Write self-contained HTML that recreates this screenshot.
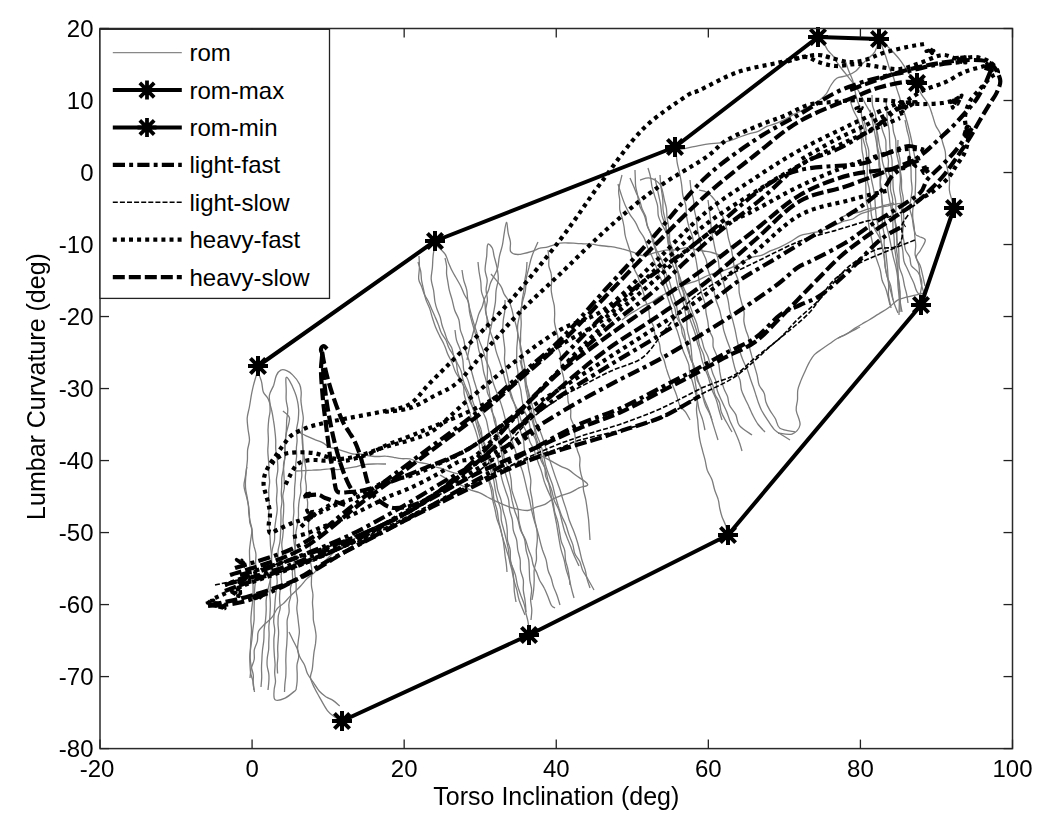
<!DOCTYPE html>
<html><head><meta charset="utf-8"><style>
html,body{margin:0;padding:0;background:#fff;width:1050px;height:825px;overflow:hidden}
svg{display:block;filter:blur(0.35px)}
</style></head><body><svg width="1050" height="825" viewBox="0 0 1050 825"><path d="M256.5 374.6 C256.0 376.4 254.4 381.6 253.5 385.2 C252.6 388.7 251.9 392.3 251.2 395.9 C250.6 399.5 250.1 403.4 249.4 407.0 C248.7 410.7 247.5 414.3 247.2 418.0 C247.0 421.6 247.7 425.3 248.0 429.0 C248.4 432.7 249.5 436.5 249.5 440.0 C249.4 443.5 248.0 446.6 247.6 449.9 C247.3 453.3 247.6 456.6 247.4 460.0 C247.1 463.5 246.7 467.0 246.3 470.5 C246.0 474.0 245.6 477.9 245.5 481.0 C245.3 484.1 245.4 486.5 245.7 489.3 C246.0 492.0 246.7 494.7 247.2 497.4 C247.6 500.1 248.1 502.8 248.4 505.5 C248.7 508.3 248.5 511.1 248.8 513.8 C249.1 516.5 249.7 519.2 250.3 521.9 C250.8 524.6 251.8 527.2 252.1 529.9 C252.5 532.6 252.3 535.4 252.6 538.1 C252.9 540.9 253.5 543.5 254.0 546.2 C254.6 548.8 255.7 551.2 255.9 554.0 C256.2 556.7 255.5 559.8 255.6 562.7 C255.7 565.5 256.5 568.5 256.5 571.3 C256.5 574.2 255.9 576.9 255.6 580.0 C255.3 583.1 254.8 586.6 254.6 590.0 C254.4 593.3 254.4 596.6 254.3 600.0 C254.2 603.3 254.1 606.7 254.1 610.0 C254.0 613.3 254.3 616.7 254.1 620.0 C253.8 623.4 253.2 626.7 252.8 630.0 C252.4 633.3 252.2 636.9 251.8 640.0 C251.4 643.0 250.9 645.5 250.6 648.3 C250.3 651.0 249.9 653.8 249.8 656.6 C249.7 659.4 249.9 662.2 250.0 665.0 C250.2 667.8 250.2 670.7 250.7 673.4 C251.2 676.2 252.5 678.8 253.1 681.6 C253.6 684.4 253.8 688.6 254.0 690.0" stroke="#7c7c7c" stroke-width="1.3" fill="none" stroke-linejoin="round"/><path d="M258.0 372.0 C258.6 373.6 260.7 378.3 261.5 381.6 C262.4 384.9 262.2 389.1 263.3 392.0 C264.4 394.8 266.9 396.0 268.2 398.9 C269.6 401.9 270.7 406.0 271.5 409.7 C272.4 413.3 273.0 417.3 273.5 420.7 C274.1 424.1 274.5 427.1 274.8 430.3 C275.2 433.6 275.6 436.7 275.7 440.0 C275.9 443.3 275.5 446.7 275.8 450.0 C276.1 453.3 277.1 456.6 277.4 460.0 C277.7 463.3 278.0 466.7 277.8 470.0 C277.7 473.3 276.5 476.7 276.4 480.0 C276.3 483.3 277.1 486.7 277.1 490.0 C277.1 493.3 276.5 496.6 276.5 500.0 C276.5 503.3 277.4 506.7 277.2 510.1 C277.1 513.4 276.2 516.7 275.8 520.0 C275.3 523.3 274.8 526.6 274.6 530.0 C274.4 533.3 274.9 536.7 274.5 540.0 C274.1 543.4 272.7 546.6 272.2 549.9 C271.7 553.2 271.4 556.5 271.3 559.9 C271.2 563.3 271.7 566.7 271.5 570.1 C271.3 573.5 270.8 576.8 270.2 580.1 C269.6 583.4 268.6 586.7 267.9 590.0 C267.3 593.3 266.5 596.6 266.2 599.9 C265.9 603.3 266.3 606.7 266.2 610.0 C266.1 613.4 265.9 616.7 265.5 620.1 C265.2 623.4 264.4 626.7 264.1 630.0 C263.9 633.4 264.1 636.8 263.8 640.1 C263.6 643.4 262.8 646.8 262.5 650.0 C262.2 653.2 262.0 656.2 261.9 659.3 C261.7 662.3 261.5 665.4 261.5 668.5 C261.5 671.6 261.8 674.7 261.7 677.8 C261.6 680.8 261.1 685.5 261.0 687.0" stroke="#7c7c7c" stroke-width="1.3" fill="none" stroke-linejoin="round"/><path d="M268.0 690.0 C268.1 688.7 268.7 684.7 268.8 682.0 C269.0 679.3 269.1 676.7 268.8 674.0 C268.5 671.3 267.5 668.7 267.2 666.0 C266.9 663.3 267.0 660.7 267.3 658.0 C267.5 655.3 268.3 652.7 268.6 650.0 C268.9 647.4 268.7 644.7 268.8 642.0 C268.9 639.4 269.1 636.7 269.1 634.0 C269.1 631.3 268.7 628.7 268.9 626.0 C269.0 623.3 269.6 620.7 269.8 618.0 C270.0 615.3 270.1 612.7 270.2 610.0 C270.3 607.3 270.4 604.7 270.3 602.0 C270.3 599.3 269.8 596.7 269.8 594.0 C269.8 591.3 270.3 588.7 270.5 586.0 C270.6 583.3 270.5 580.7 270.6 578.0 C270.8 575.3 271.2 572.7 271.4 570.0 C271.6 567.3 271.7 564.6 271.7 562.0 C271.7 559.3 271.6 556.6 271.4 554.0 C271.2 551.3 270.7 548.7 270.5 546.0 C270.3 543.3 270.3 540.7 270.1 538.0 C270.0 535.3 269.8 532.7 269.6 530.0 C269.4 527.3 269.1 524.7 269.0 522.0 C268.8 519.4 268.7 516.7 268.7 514.0 C268.8 511.4 269.3 508.7 269.3 506.0 C269.4 503.3 269.0 500.7 268.9 498.0 C268.8 495.3 268.7 492.7 268.8 490.0 C268.9 487.3 269.6 484.7 269.6 482.0 C269.7 479.3 269.0 476.7 268.9 474.0 C268.8 471.3 269.0 468.7 268.9 466.0 C268.8 463.3 268.5 460.7 268.3 458.0 C268.1 455.3 267.8 453.0 267.8 450.0 C267.9 447.0 268.4 443.3 268.4 440.0 C268.4 436.7 268.0 433.3 268.0 430.0 C268.1 426.7 268.4 423.0 268.7 420.0 C269.0 417.0 269.8 414.5 270.0 411.7 C270.2 408.9 270.0 406.2 269.9 403.3 C269.8 400.5 268.8 397.9 269.5 394.8 C270.1 391.8 272.5 388.4 273.7 385.2 C274.8 382.0 275.2 377.9 276.4 375.4 C277.6 372.8 279.1 370.9 280.8 370.1 C282.5 369.3 284.6 369.8 286.6 370.6 C288.5 371.4 290.5 372.6 292.6 374.9 C294.8 377.1 298.1 381.2 299.5 384.1 C300.9 386.9 300.9 389.4 301.2 392.1 C301.4 394.9 300.8 397.7 300.9 400.4 C301.1 403.2 301.5 405.5 301.9 408.5 C302.3 411.5 303.2 415.0 303.3 418.2 C303.4 421.5 302.4 425.0 302.2 428.0 C302.1 431.0 302.3 433.3 302.4 436.0 C302.5 438.7 302.8 441.3 302.9 444.0 C303.0 446.7 302.9 449.3 302.9 452.0 C302.9 454.7 303.2 457.3 303.0 460.0 C302.8 462.7 301.8 465.3 301.6 467.9 C301.4 470.6 302.0 473.3 301.8 476.0 C301.6 478.7 300.8 481.3 300.6 484.0 C300.4 486.6 301.1 489.4 300.9 492.0 C300.6 494.7 299.7 497.3 299.3 499.9 C298.9 502.6 298.6 505.2 298.5 507.9 C298.3 510.6 298.6 513.3 298.5 516.0 C298.3 518.7 297.9 521.3 297.5 524.0 C297.1 526.6 296.4 529.3 296.0 531.9 C295.7 534.6 295.7 537.3 295.6 540.0 C295.5 542.6 295.3 545.3 295.2 548.0 C295.1 550.7 295.1 553.4 294.9 556.0 C294.7 558.7 294.3 561.4 293.9 564.0 C293.5 566.7 292.7 569.3 292.4 572.0 C292.2 574.6 292.9 577.4 292.6 580.1 C292.3 582.7 290.8 585.3 290.5 587.9 C290.2 590.6 291.1 593.4 290.8 596.0 C290.5 598.7 289.1 601.3 288.9 603.9 C288.6 606.6 289.4 609.4 289.1 612.0 C288.9 614.7 287.5 617.3 287.2 620.0 C286.9 622.6 287.2 625.3 287.2 628.0 C287.2 630.7 287.3 633.3 287.2 636.0 C287.1 638.7 286.9 641.3 286.8 644.0 C286.6 646.7 286.3 649.3 286.1 652.0 C286.0 654.7 285.9 657.3 285.8 660.0 C285.8 662.7 286.0 665.3 286.0 668.0 C286.0 670.7 286.0 673.4 285.8 676.0 C285.6 678.7 285.1 681.3 284.9 684.0 C284.6 686.7 284.6 690.7 284.5 692.0" stroke="#7c7c7c" stroke-width="1.3" fill="none" stroke-linejoin="round"/><path d="M277.6 673.5 C277.5 672.1 277.2 667.9 277.2 665.1 C277.3 662.3 277.8 659.5 277.9 656.8 C278.0 654.0 277.6 651.2 277.7 648.4 C277.7 645.6 278.0 642.7 278.2 640.0 C278.3 637.3 278.7 634.7 278.6 632.0 C278.6 629.3 278.1 626.6 278.0 624.0 C278.0 621.3 278.0 618.6 278.3 616.0 C278.7 613.3 280.0 610.7 280.2 608.0 C280.4 605.4 279.6 602.7 279.6 600.0 C279.5 597.3 279.6 594.6 279.9 592.0 C280.3 589.3 281.5 586.7 281.7 584.0 C281.9 581.4 281.1 578.7 281.1 576.0 C281.2 573.3 282.1 570.7 282.2 568.0 C282.3 565.4 281.9 562.7 282.0 560.0 C282.0 557.3 282.5 554.7 282.5 552.0 C282.4 549.3 281.7 546.7 281.8 544.0 C281.8 541.3 282.6 538.7 282.8 536.0 C283.1 533.3 283.4 530.7 283.5 528.0 C283.5 525.3 283.0 522.7 283.0 520.0 C283.1 517.3 283.5 514.7 283.6 512.0 C283.7 509.3 283.8 506.7 283.7 504.0 C283.6 501.3 282.7 498.6 282.8 496.0 C282.9 493.3 284.0 490.7 284.3 488.0 C284.5 485.3 284.2 482.7 284.2 480.0 C284.1 477.3 283.9 474.7 283.8 472.0 C283.7 469.3 283.3 466.6 283.6 464.0 C283.8 461.3 285.1 458.7 285.3 456.0 C285.5 453.4 284.7 450.7 284.8 448.0 C284.8 445.3 285.1 443.0 285.4 440.0 C285.7 437.0 286.1 433.4 286.3 430.0 C286.6 426.7 286.5 423.4 286.7 420.0 C287.0 416.7 287.8 413.3 287.8 410.0 C287.7 406.6 286.4 403.3 286.2 400.0 C285.9 396.7 286.3 393.7 286.2 390.0 C286.2 386.3 285.5 379.5 286.0 377.9 C286.6 376.3 287.8 378.0 289.3 380.3 C290.7 382.6 293.4 388.3 294.7 391.7 C296.1 395.1 296.8 397.6 297.4 400.7 C298.1 403.8 298.5 406.8 298.7 410.0 C298.8 413.2 298.5 416.7 298.2 420.0 C297.8 423.3 296.7 426.6 296.5 430.0 C296.3 433.3 297.1 437.0 297.1 440.0 C297.1 443.0 296.5 445.3 296.4 448.0 C296.3 450.7 296.7 453.3 296.6 456.0 C296.5 458.7 295.9 461.3 295.8 464.0 C295.6 466.7 295.7 469.3 295.6 472.0 C295.5 474.7 295.4 477.3 295.3 480.0 C295.1 482.7 294.8 485.3 294.6 488.0 C294.5 490.7 294.6 493.3 294.4 496.0 C294.3 498.7 293.8 501.3 293.7 504.0 C293.6 506.6 293.9 509.3 293.9 512.0 C293.8 514.7 293.3 517.3 293.2 520.0 C293.2 522.7 293.5 525.3 293.6 528.0 C293.6 530.7 293.4 533.4 293.5 536.0 C293.6 538.7 294.0 541.3 294.3 544.0 C294.6 546.7 295.4 549.3 295.4 552.0 C295.4 554.7 294.5 557.4 294.4 560.0 C294.2 562.7 294.4 565.4 294.6 568.0 C294.7 570.7 294.8 573.4 295.1 576.0 C295.3 578.7 295.9 581.3 296.1 584.0 C296.3 586.7 296.0 589.4 296.2 592.0 C296.5 594.7 297.4 597.3 297.5 600.0 C297.6 602.6 296.8 605.4 296.8 608.0 C296.8 610.7 297.4 613.3 297.7 616.0 C298.0 618.7 298.3 621.3 298.6 624.0 C298.9 626.6 299.4 629.3 299.4 632.0 C299.3 634.6 298.7 637.2 298.4 640.0 C298.1 642.7 297.6 645.5 297.6 648.3 C297.7 651.1 298.8 653.9 298.7 656.7 C298.6 659.5 297.2 662.2 297.0 665.0 C296.7 667.7 297.1 670.6 297.2 673.3 C297.2 676.1 297.3 678.9 297.1 681.7 C296.9 684.5 296.2 688.6 296.0 690.0" stroke="#7c7c7c" stroke-width="1.3" fill="none" stroke-linejoin="round"/><path d="M283.0 411.0 C284.1 412.2 288.9 414.5 289.5 418.1 C290.0 421.7 287.1 428.9 286.4 432.9 C285.7 436.9 285.5 439.0 285.2 442.1 C285.0 445.2 285.1 448.3 285.0 451.4 C284.8 454.6 284.8 457.7 284.5 460.8 C284.2 463.9 283.6 467.1 283.2 470.0 C282.7 472.9 282.1 475.3 281.8 478.0 C281.6 480.6 281.7 483.3 281.7 486.0 C281.6 488.6 281.3 491.3 281.3 494.0 C281.4 496.7 282.0 499.4 281.9 502.0 C281.8 504.7 281.1 507.3 280.9 510.0 C280.8 512.7 281.0 515.3 281.0 518.0 C281.0 520.7 280.9 523.4 280.8 526.0 C280.7 528.7 280.7 531.4 280.5 534.0 C280.4 536.7 280.3 539.4 279.9 542.0 C279.5 544.7 278.6 547.3 278.2 549.9 C277.9 552.6 278.0 555.3 277.8 558.0 C277.6 560.6 277.4 563.3 277.2 566.0 C277.1 568.6 276.7 571.3 276.7 574.0 C276.6 576.6 277.2 579.4 277.2 582.0 C277.1 584.7 276.6 587.4 276.3 590.0 C276.0 592.7 275.6 595.3 275.4 598.0 C275.1 600.6 275.0 603.3 274.8 606.0 C274.6 608.6 274.3 611.3 274.2 614.0 C274.0 616.6 273.6 619.3 273.7 622.0 C273.8 624.6 274.7 627.2 274.7 630.0 C274.8 632.8 274.1 635.8 273.9 638.6 C273.8 641.5 273.9 644.4 273.9 647.3 C274.0 650.1 274.2 653.0 274.4 655.9 C274.6 658.7 275.0 661.6 275.1 664.5 C275.1 667.4 274.6 670.2 274.7 673.1 C274.7 676.0 275.6 678.9 275.5 681.7 C275.4 684.6 274.2 687.4 274.1 690.4 C274.0 693.4 273.2 698.4 275.1 699.7 C276.9 700.9 281.6 699.7 285.1 698.1 C288.5 696.5 294.2 691.3 296.0 690.0" stroke="#7c7c7c" stroke-width="1.3" fill="none" stroke-linejoin="round"/><path d="M246.8 466.8 C246.6 468.4 245.9 473.2 245.4 476.4 C244.9 479.6 243.8 482.8 244.0 486.1 C244.1 489.4 245.6 492.7 246.3 495.9 C247.1 499.2 248.0 502.7 248.5 505.7 C249.0 508.6 249.2 511.1 249.4 513.8 C249.6 516.5 249.3 519.2 249.7 521.9 C250.1 524.6 251.7 527.0 251.8 530.0 C252.0 533.0 251.1 536.7 250.7 540.0 C250.3 543.3 249.7 546.6 249.5 550.0 C249.4 553.3 249.6 556.7 249.7 560.0 C249.9 563.4 249.8 566.8 250.3 570.1 C250.8 573.4 252.2 576.6 252.7 579.9 C253.2 583.3 253.0 586.7 253.1 590.0 C253.1 593.4 253.0 596.7 252.8 600.0 C252.5 603.4 251.9 606.7 251.6 610.0 C251.3 613.3 250.9 616.7 250.9 620.0 C250.9 623.3 251.5 626.7 251.5 630.0 C251.5 633.4 251.0 636.7 250.8 640.0 C250.7 643.3 250.5 646.9 250.4 650.0 C250.3 653.0 250.0 655.7 250.2 658.5 C250.3 661.3 250.8 664.1 251.3 666.9 C251.9 669.6 253.0 672.3 253.3 675.1 C253.6 677.9 252.9 680.8 253.1 683.7 C253.3 686.5 254.3 690.6 254.5 692.0" stroke="#7c7c7c" stroke-width="1.3" fill="none" stroke-linejoin="round"/><path d="M302.0 430.0 C302.0 431.3 302.0 435.4 302.1 438.0 C302.2 440.7 302.3 443.4 302.6 446.0 C302.9 448.7 303.5 451.3 303.8 454.0 C304.2 456.7 304.5 459.3 304.8 462.0 C305.2 464.6 305.8 467.3 305.9 469.9 C306.0 472.6 305.2 475.3 305.3 478.0 C305.4 480.7 306.1 483.3 306.3 486.0 C306.4 488.7 306.1 491.4 306.3 494.0 C306.6 496.7 307.4 499.3 307.6 502.0 C307.8 504.6 307.3 507.2 307.5 510.0 C307.7 512.8 308.8 515.8 308.9 518.7 C309.1 521.6 308.4 524.6 308.5 527.5 C308.5 530.5 308.8 533.4 309.1 536.3 C309.4 539.2 309.9 542.2 310.2 545.0 C310.4 547.8 310.3 550.5 310.3 553.2 C310.4 555.9 310.2 558.7 310.5 561.4 C310.7 564.1 311.6 566.8 311.8 569.6 C311.9 572.3 311.6 575.1 311.5 577.8 C311.5 580.5 311.2 583.3 311.5 586.0 C311.7 588.8 312.8 591.6 312.9 594.5 C313.1 597.3 312.4 600.2 312.5 603.0 C312.5 605.9 313.0 608.7 313.2 611.5 C313.3 614.4 313.1 617.3 313.4 620.1 C313.7 622.8 314.5 625.3 315.0 628.0 C315.4 630.6 316.0 633.3 316.1 635.9 C316.1 638.6 315.8 641.2 315.5 643.9 C315.1 646.7 314.4 649.6 314.0 652.4 C313.6 655.3 313.4 658.1 313.1 661.0 C312.8 663.9 312.7 666.8 312.2 669.6 C311.8 672.4 310.1 674.8 310.5 677.8 C310.8 680.8 312.8 684.4 314.3 687.6 C315.7 690.8 317.1 693.0 319.3 696.8 C321.5 700.6 324.8 707.2 327.4 710.6 C330.0 714.0 332.5 715.4 334.9 717.1 C337.3 718.9 340.8 720.4 342.0 721.0" stroke="#7c7c7c" stroke-width="1.3" fill="none" stroke-linejoin="round"/><path d="M289.0 632.0 C289.7 633.4 291.7 637.4 293.0 640.2 C294.3 642.9 295.8 645.5 297.0 648.3 C298.1 651.2 298.6 654.3 299.9 657.0 C301.1 659.8 303.2 662.1 304.5 664.9 C305.8 667.6 306.0 670.6 307.4 673.5 C308.9 676.5 311.5 679.7 313.5 682.6 C315.5 685.6 317.4 689.0 319.4 691.3 C321.5 693.7 323.6 695.1 325.9 696.7 C328.2 698.2 331.0 699.1 333.3 700.6 C335.6 702.2 338.6 705.1 339.7 706.0" stroke="#7c7c7c" stroke-width="1.3" fill="none" stroke-linejoin="round"/><path d="M250.0 678.0 C250.2 676.4 250.5 671.7 251.2 668.6 C251.9 665.5 253.6 662.6 254.2 659.5 C254.7 656.4 253.8 652.9 254.3 649.9 C254.9 646.8 256.7 644.1 257.4 641.1 C258.0 638.0 257.2 634.4 258.4 631.5 C259.7 628.7 262.6 626.4 264.8 624.0 C267.1 621.7 270.0 619.8 272.1 617.2 C274.2 614.7 275.3 610.9 277.2 608.6 C279.1 606.3 281.6 605.3 283.5 603.4 C285.5 601.6 287.2 599.4 289.0 597.4 C290.9 595.5 292.9 593.6 294.8 591.7 C296.7 589.8 298.6 588.2 300.6 586.0 C302.6 583.8 304.7 580.9 307.0 578.6 C309.3 576.4 312.4 574.8 314.6 572.4 C316.9 570.1 318.4 566.7 320.5 564.4 C322.6 562.2 324.9 560.9 327.0 559.0 C329.1 557.1 331.0 554.9 333.1 553.0 C335.2 551.1 337.0 549.6 339.8 547.6 C342.6 545.7 346.5 543.5 349.9 541.4 C353.3 539.3 358.3 536.1 360.0 535.0" stroke="#7c7c7c" stroke-width="1.3" fill="none" stroke-linejoin="round"/><path d="M300.0 433.0 C301.2 433.6 304.9 435.2 307.4 436.3 C309.9 437.4 312.4 438.5 314.9 439.6 C317.4 440.6 320.1 441.3 322.5 442.6 C324.9 443.9 326.9 446.1 329.3 447.2 C331.8 448.3 334.6 448.4 337.2 449.1 C339.8 449.9 342.4 450.9 345.0 451.7 C347.6 452.5 350.2 453.6 352.9 454.0 C355.5 454.5 358.3 454.0 361.1 454.2 C363.8 454.5 366.4 455.4 369.2 455.8 C371.9 456.1 374.6 456.5 377.3 456.5 C380.1 456.6 382.8 456.0 385.6 456.2 C388.3 456.3 391.0 457.0 393.7 457.4 C396.4 457.9 399.1 458.5 401.8 458.7 C404.5 458.9 407.3 458.4 410.0 458.9 C412.7 459.5 415.2 461.2 417.9 462.1 C420.6 462.9 423.5 463.0 426.2 463.7 C428.9 464.5 431.5 465.7 434.1 466.5 C436.8 467.4 439.6 467.8 442.2 468.7 C444.8 469.5 447.4 470.8 450.0 471.7 C452.6 472.6 456.7 473.6 458.0 474.0" stroke="#7c7c7c" stroke-width="1.3" fill="none" stroke-linejoin="round"/><path d="M296.0 471.0 C297.4 471.0 301.5 470.9 304.2 470.7 C306.9 470.6 309.7 470.2 312.4 470.1 C315.1 469.9 317.9 470.1 320.6 469.9 C323.3 469.7 326.0 468.9 328.8 468.9 C331.5 468.8 334.2 469.6 337.1 469.6 C340.0 469.5 343.1 468.8 346.1 468.3 C349.1 467.9 352.1 467.4 355.0 466.8 C358.0 466.2 360.9 465.1 363.9 464.6 C366.9 464.2 369.3 464.1 373.0 464.0 C376.7 463.9 383.8 464.0 386.0 464.0" stroke="#7c7c7c" stroke-width="1.3" fill="none" stroke-linejoin="round"/><path d="M435.0 244.0 C434.7 246.0 433.5 252.1 433.1 256.0 C432.7 259.9 432.7 263.6 432.4 267.5 C432.1 271.3 431.0 275.3 431.2 279.1 C431.4 282.9 432.9 286.7 433.6 290.5 C434.2 294.3 434.4 298.8 435.0 302.0 C435.6 305.2 436.3 307.2 437.2 309.7 C438.1 312.2 439.4 314.6 440.2 317.2 C441.0 319.7 441.2 322.4 442.0 325.0 C442.7 327.6 443.9 330.2 444.8 332.8 C445.7 335.3 446.4 338.0 447.5 340.5 C448.7 343.0 450.7 345.3 451.7 347.8 C452.7 350.3 452.9 353.0 453.7 355.6 C454.5 358.1 455.7 360.5 456.4 363.1 C457.0 365.7 456.9 368.6 457.5 371.2 C458.1 373.8 459.0 376.3 460.0 378.8 C461.0 381.3 462.8 383.5 463.5 386.1 C464.1 388.7 463.7 391.4 464.2 394.2 C464.7 397.0 465.7 400.0 466.5 402.9 C467.4 405.7 468.5 408.5 469.4 411.4 C470.3 414.3 470.8 417.0 471.8 420.1 C472.8 423.1 474.2 426.6 475.3 429.8 C476.3 433.1 477.4 436.4 478.2 439.8 C479.0 443.1 479.1 446.7 480.0 450.0 C480.8 453.3 482.4 456.5 483.4 459.8 C484.4 463.1 485.0 466.5 485.9 469.9 C486.7 473.2 487.6 476.6 488.5 479.9 C489.3 483.2 490.4 486.5 491.2 489.8 C491.9 493.2 492.1 496.6 492.7 500.0 C493.4 503.3 494.4 506.8 495.1 510.0 C495.8 513.1 496.1 516.0 496.9 518.9 C497.7 521.8 499.1 524.6 500.0 527.5 C500.9 530.4 501.4 533.4 502.3 536.3 C503.1 539.2 504.0 541.9 505.0 545.0 C506.0 548.1 506.9 551.8 508.1 555.1 C509.2 558.4 510.5 561.7 511.7 565.0 C513.0 568.3 514.4 571.5 515.4 574.9 C516.3 578.3 516.6 581.9 517.5 585.3 C518.4 588.7 519.7 592.0 520.8 595.3 C522.0 598.6 523.5 602.1 524.4 605.1 C525.3 608.1 525.4 610.6 526.0 613.4 C526.6 616.1 527.5 618.8 528.0 621.6 C528.5 624.4 528.8 628.6 529.0 630.0" stroke="#7c7c7c" stroke-width="1.3" fill="none" stroke-linejoin="round"/><path d="M436.0 245.0 C437.5 246.5 443.0 251.1 445.0 254.0 C447.1 256.9 447.2 259.6 448.4 262.4 C449.6 265.2 450.7 268.1 452.1 270.8 C453.4 273.5 455.1 276.1 456.6 278.7 C458.0 281.3 459.5 283.7 460.8 286.3 C462.1 288.8 462.9 291.6 464.2 294.2 C465.5 296.8 467.5 299.0 468.4 301.9 C469.3 304.8 468.9 308.4 469.5 311.6 C470.0 314.8 470.9 318.0 471.7 321.1 C472.5 324.2 473.5 327.1 474.3 330.0 C475.2 333.0 476.2 335.8 476.9 339.0 C477.6 342.3 477.9 346.1 478.7 349.6 C479.5 353.0 480.8 356.2 481.6 359.9 C482.4 363.5 482.8 367.6 483.6 371.5 C484.4 375.3 486.0 379.4 486.6 382.9 C487.2 386.3 486.6 389.2 487.3 392.2 C488.0 395.2 490.1 397.8 490.8 400.8 C491.5 403.8 490.7 407.0 491.4 410.1 C492.2 413.3 494.5 416.5 495.4 419.8 C496.3 423.1 496.2 426.7 497.0 430.1 C497.8 433.4 499.3 436.6 500.3 439.9 C501.3 443.2 502.1 446.6 502.8 450.0 C503.6 453.3 503.7 456.9 504.7 460.2 C505.7 463.5 507.8 466.5 508.8 469.8 C509.9 473.1 510.6 476.4 511.1 479.8 C511.6 483.2 511.3 486.8 511.9 490.2 C512.6 493.5 514.0 496.7 515.0 500.0 C516.0 503.3 517.4 506.5 518.1 509.8 C518.7 513.2 518.3 516.8 518.8 520.2 C519.3 523.6 520.2 526.9 521.2 530.2 C522.2 533.4 523.9 536.6 524.7 539.9 C525.5 543.2 525.5 546.6 526.1 550.0 C526.8 553.3 528.1 556.6 528.7 559.9 C529.2 563.3 529.1 566.6 529.3 570.0 C529.5 573.3 529.4 576.7 529.8 580.0 C530.2 583.4 531.5 586.7 531.6 590.0 C531.7 593.3 530.6 596.7 530.6 600.0 C530.7 603.3 531.7 606.7 531.8 610.0 C531.9 613.3 531.1 618.3 531.0 620.0" stroke="#7c7c7c" stroke-width="1.3" fill="none" stroke-linejoin="round"/><path d="M419.0 256.0 C419.1 257.9 419.5 263.6 419.4 267.5 C419.4 271.4 418.3 275.9 418.7 279.1 C419.1 282.3 420.7 284.2 421.7 286.8 C422.6 289.4 423.3 292.1 424.4 294.6 C425.6 297.1 427.3 299.3 428.5 301.8 C429.7 304.3 430.7 306.9 431.8 309.5 C432.9 312.0 434.1 314.5 435.2 317.1 C436.4 319.6 437.4 322.2 438.4 324.8 C439.5 327.4 440.0 330.3 441.3 332.8 C442.5 335.4 444.7 337.5 445.9 340.0 C447.2 342.6 447.7 345.5 449.0 348.0 C450.2 350.6 452.1 352.9 453.5 355.4 C454.9 358.0 456.1 360.6 457.3 363.2 C458.6 365.8 460.2 368.4 461.1 371.0 C462.0 373.6 462.0 376.3 462.8 378.8 C463.5 381.4 464.5 383.9 465.5 386.4 C466.5 388.9 467.9 391.0 468.8 393.7 C469.8 396.4 470.2 399.6 471.1 402.5 C471.9 405.4 473.2 408.2 473.9 411.1 C474.7 414.1 474.7 417.0 475.4 420.2 C476.1 423.3 477.2 426.8 478.1 430.1 C479.0 433.5 479.9 436.8 480.8 440.1 C481.7 443.5 482.6 446.8 483.4 450.1 C484.2 453.4 484.9 456.7 485.6 460.1 C486.2 463.4 486.6 466.8 487.2 470.2 C487.9 473.5 488.6 476.8 489.5 480.1 C490.4 483.4 492.0 486.6 492.8 489.9 C493.5 493.2 493.3 496.8 494.1 500.1 C494.8 503.5 496.3 506.7 497.0 510.0 C497.8 513.3 497.9 516.8 498.5 520.1 C499.2 523.4 500.1 526.7 500.9 530.0 C501.6 533.3 502.6 537.0 503.1 540.0 C503.7 543.0 503.9 545.3 504.2 548.0 C504.6 550.6 504.8 553.3 505.1 556.0 C505.5 558.6 506.0 561.3 506.3 564.0 C506.6 566.6 506.9 570.7 507.0 572.0" stroke="#7c7c7c" stroke-width="1.3" fill="none" stroke-linejoin="round"/><path d="M418.0 262.0 C418.4 263.5 420.1 268.1 420.7 271.2 C421.3 274.3 421.1 277.6 421.6 280.7 C422.2 283.9 423.0 286.9 423.7 290.1 C424.4 293.2 424.9 296.5 425.9 299.6 C426.9 302.6 428.6 305.5 429.7 308.6 C430.8 311.6 431.4 314.7 432.4 317.8 C433.4 320.9 434.4 324.1 435.6 327.2 C436.8 330.2 438.3 333.2 439.7 336.1 C441.2 339.1 443.0 341.9 444.3 344.9 C445.7 347.9 446.4 351.1 447.7 354.1 C449.0 357.1 450.9 359.9 452.2 362.9 C453.5 365.9 454.0 369.2 455.6 372.2 C457.1 375.2 459.6 378.0 461.3 381.0 C463.0 384.1 464.4 387.2 465.8 390.4 C467.1 393.6 468.0 397.0 469.3 400.2 C470.6 403.5 472.3 406.6 473.6 409.9 C474.9 413.2 476.1 416.5 477.1 419.9 C478.1 423.2 478.5 426.8 479.5 430.2 C480.5 433.5 481.8 436.8 483.1 440.1 C484.4 443.3 486.1 446.5 487.3 449.8 C488.4 453.1 489.1 456.6 489.9 460.0 C490.8 463.4 491.4 466.8 492.4 470.1 C493.4 473.4 495.0 476.5 495.9 479.8 C496.8 483.2 496.9 486.7 497.7 490.1 C498.6 493.4 500.1 496.5 501.0 499.8 C501.9 503.2 502.2 506.6 503.0 509.9 C503.7 513.3 505.0 516.5 505.7 519.9 C506.4 523.2 506.9 526.5 507.2 529.9 C507.5 533.3 507.0 536.8 507.5 540.1 C508.0 543.5 509.7 546.6 510.2 550.0 C510.7 553.3 510.0 556.8 510.5 560.1 C510.9 563.5 512.2 566.7 512.8 570.0 C513.3 573.3 513.5 576.5 513.8 580.0 C514.1 583.5 514.0 587.4 514.3 591.1 C514.7 594.7 515.7 600.2 516.0 602.0" stroke="#7c7c7c" stroke-width="1.3" fill="none" stroke-linejoin="round"/><path d="M486.0 330.0 C486.2 328.3 487.2 323.4 487.2 320.0 C487.1 316.7 485.7 313.3 485.8 310.0 C485.8 306.6 487.4 303.3 487.4 300.0 C487.5 296.7 486.1 293.4 486.1 290.0 C486.0 286.7 487.4 283.3 487.2 280.0 C487.1 276.6 485.2 274.0 485.1 270.0 C485.0 266.0 486.2 260.4 486.7 256.1 C487.1 251.8 486.8 245.6 487.8 244.3 C488.7 242.9 491.3 246.2 492.4 248.2 C493.4 250.1 493.3 252.9 494.1 256.1 C494.9 259.3 496.3 263.6 497.0 267.4 C497.7 271.3 498.4 275.2 498.3 279.0 C498.1 282.9 496.6 286.6 496.1 290.5 C495.6 294.3 495.8 298.2 495.4 302.1 C494.9 305.9 494.1 309.7 493.4 313.6 C492.8 317.4 492.2 321.3 491.5 325.1 C490.7 328.9 489.6 332.6 488.9 336.4 C488.2 340.2 487.6 344.1 487.3 348.0 C487.0 351.8 486.9 355.6 487.0 359.5 C487.0 363.3 487.4 367.4 487.5 370.9 C487.5 374.5 487.0 377.5 487.2 380.7 C487.5 384.0 488.4 387.1 489.0 390.3 C489.5 393.5 490.0 396.6 490.5 399.9 C491.0 403.2 491.5 406.6 492.1 410.0 C492.7 413.3 493.4 416.7 494.1 420.0 C494.9 423.3 496.1 426.5 496.7 429.8 C497.4 433.2 497.5 436.7 498.2 440.0 C498.9 443.4 500.1 446.6 500.9 449.9 C501.7 453.3 502.3 456.7 502.9 460.0 C503.5 463.4 503.8 466.8 504.6 470.2 C505.3 473.5 506.5 476.8 507.4 480.1 C508.3 483.4 509.4 486.6 510.2 490.0 C510.9 493.3 511.3 496.8 512.0 500.2 C512.8 503.5 513.5 506.9 514.5 510.2 C515.5 513.5 517.0 516.7 518.0 520.0 C519.0 523.3 519.3 527.0 520.6 530.3 C521.8 533.5 524.2 536.5 525.5 539.7 C526.8 543.0 527.6 546.8 528.6 549.8 C529.6 552.7 530.8 554.7 531.5 557.3 C532.3 559.9 532.4 562.7 533.3 565.3 C534.1 567.9 535.6 570.1 536.7 572.6 C537.7 575.1 538.4 577.6 539.6 580.2 C540.9 582.8 543.0 585.4 544.3 588.2 C545.7 590.9 546.8 593.8 548.0 596.7 C549.2 599.6 550.3 603.6 551.5 605.5 C552.7 607.4 554.4 607.6 555.0 608.0" stroke="#7c7c7c" stroke-width="1.3" fill="none" stroke-linejoin="round"/><path d="M467.0 360.0 C467.4 358.1 468.4 352.3 469.3 348.4 C470.1 344.6 471.1 340.2 472.0 337.0 C472.8 333.8 473.4 331.8 474.2 329.3 C475.0 326.7 475.8 324.2 476.6 321.6 C477.4 319.1 477.9 316.5 478.8 313.9 C479.8 311.4 481.3 309.0 482.3 306.4 C483.2 303.9 483.6 301.1 484.6 298.5 C485.6 296.0 487.2 293.7 488.2 291.1 C489.2 288.5 489.5 285.6 490.5 283.0 C491.5 280.4 493.1 278.0 494.3 275.5 C495.5 273.0 496.9 271.1 497.7 267.9 C498.5 264.8 498.6 260.2 499.4 256.4 C500.2 252.6 501.6 248.9 502.4 245.1 C503.2 241.3 503.5 237.3 504.2 233.4 C504.8 229.6 505.8 222.1 506.5 222.1 C507.2 222.0 507.5 229.8 508.2 233.1 C508.8 236.4 510.0 238.9 510.4 242.0 C510.9 245.0 509.4 249.6 510.7 251.7 C512.0 253.7 514.6 254.6 518.1 254.5 C521.7 254.5 528.5 252.4 532.1 251.3 C535.7 250.2 537.1 248.9 539.8 248.2 C542.4 247.4 544.6 247.8 548.0 246.9 C551.3 246.1 556.6 243.9 560.0 243.2 C563.3 242.6 565.3 243.0 568.0 243.0 C570.7 243.0 573.4 243.2 576.0 243.3 C578.7 243.4 581.4 243.7 584.0 243.9 C586.7 244.0 589.4 243.9 592.0 244.2 C594.7 244.4 596.7 245.1 599.9 245.5 C603.1 245.9 607.4 246.2 611.0 246.7 C614.7 247.3 618.4 247.9 622.0 248.9 C625.7 249.8 629.2 251.1 632.9 252.2 C636.6 253.4 640.5 255.7 644.1 255.8 C647.8 255.9 651.3 253.6 654.9 252.6 C658.6 251.7 662.2 250.7 665.8 250.2 C669.5 249.7 673.2 250.3 676.7 249.8 C680.2 249.4 683.8 247.6 686.9 247.6 C689.9 247.5 692.4 248.9 695.1 249.5 C697.9 250.1 700.7 250.5 703.5 251.0 C706.3 251.5 709.1 251.9 711.9 252.5 C714.6 253.2 718.6 254.6 720.0 255.0" stroke="#7c7c7c" stroke-width="1.3" fill="none" stroke-linejoin="round"/><path d="M538.0 242.0 C537.0 244.3 533.5 251.8 532.0 256.0 C530.5 260.2 529.9 263.6 529.0 267.4 C528.0 271.2 526.8 275.0 526.2 278.9 C525.6 282.7 526.0 286.7 525.4 290.6 C524.8 294.4 523.4 298.1 522.5 301.9 C521.7 305.7 520.9 309.6 520.1 313.4 C519.3 317.3 518.1 321.1 517.7 325.0 C517.3 328.8 517.8 332.7 517.7 336.6 C517.6 340.4 517.0 344.7 516.8 347.9 C516.7 351.2 516.8 353.3 516.7 356.0 C516.7 358.7 516.4 361.4 516.6 364.0 C516.8 366.7 517.7 369.3 517.9 372.0 C518.2 374.6 517.5 377.0 518.0 380.0 C518.4 383.0 520.0 386.6 520.7 389.9 C521.3 393.3 521.5 396.8 522.1 400.1 C522.7 403.5 523.2 407.0 524.2 410.3 C525.3 413.6 527.4 416.6 528.5 419.9 C529.6 423.3 529.6 427.0 530.8 430.3 C532.0 433.6 534.6 436.4 535.7 439.8 C536.9 443.1 536.9 446.8 537.8 450.2 C538.7 453.6 539.7 456.9 541.0 460.2 C542.3 463.5 544.4 466.5 545.6 469.8 C546.8 473.1 547.0 476.7 548.0 480.1 C549.0 483.5 550.5 486.7 551.6 490.0 C552.6 493.4 553.0 497.0 554.2 500.3 C555.4 503.6 557.6 506.5 558.8 509.8 C560.1 513.1 560.7 516.6 561.6 520.0 C562.5 523.4 563.4 527.1 564.3 530.2 C565.3 533.3 566.4 535.7 567.4 538.4 C568.5 541.1 569.6 543.9 570.7 546.6 C571.7 549.3 572.3 551.4 573.7 554.6 C575.1 557.9 578.1 564.1 579.0 566.0" stroke="#7c7c7c" stroke-width="1.3" fill="none" stroke-linejoin="round"/><path d="M491.0 274.0 C492.6 276.0 498.3 282.4 500.5 285.7 C502.7 289.1 502.8 291.4 504.2 294.1 C505.7 296.8 508.0 299.4 509.3 301.9 C510.6 304.5 511.1 306.9 511.9 309.5 C512.6 312.1 513.0 314.7 513.7 317.3 C514.4 319.9 515.2 321.8 516.0 325.0 C516.8 328.2 517.7 332.7 518.5 336.5 C519.4 340.3 520.3 344.2 521.1 348.0 C521.9 351.8 522.7 355.6 523.4 359.4 C524.1 363.3 525.0 367.1 525.4 370.9 C525.9 374.8 525.7 378.7 526.2 382.5 C526.6 386.4 527.7 390.3 528.3 393.9 C529.0 397.6 529.4 400.9 530.0 404.4 C530.7 407.9 531.4 411.3 532.2 414.8 C532.9 418.2 533.6 421.8 534.4 425.2 C535.2 428.6 535.8 431.9 536.9 435.2 C538.0 438.5 539.7 441.6 540.8 444.9 C541.9 448.2 542.7 451.5 543.5 454.9 C544.3 458.2 544.7 461.8 545.6 465.1 C546.5 468.5 547.7 471.8 548.9 475.0 C550.0 478.3 551.5 481.5 552.5 484.8 C553.5 488.2 554.1 491.7 555.0 495.1 C556.0 498.5 557.0 501.9 558.0 505.2 C559.1 508.6 560.1 511.9 561.4 515.2 C562.7 518.5 564.6 521.6 565.8 524.8 C567.1 528.1 567.8 531.6 569.0 534.9 C570.2 538.2 571.8 541.5 572.8 544.6 C573.8 547.8 573.7 550.9 574.9 553.7 C576.0 556.5 578.5 558.7 579.8 561.5 C581.1 564.2 581.2 567.1 582.6 570.2 C584.1 573.3 586.5 576.7 588.4 580.0 C590.3 583.3 593.1 588.3 594.0 590.0" stroke="#7c7c7c" stroke-width="1.3" fill="none" stroke-linejoin="round"/><path d="M520.0 360.0 C520.4 361.7 521.6 366.7 522.4 370.1 C523.2 373.4 523.9 376.8 524.8 380.1 C525.8 383.5 527.0 386.7 528.0 390.0 C528.9 393.3 529.7 396.7 530.6 400.0 C531.6 403.3 532.8 406.6 533.5 410.0 C534.3 413.3 534.1 417.0 535.2 420.3 C536.2 423.6 538.3 426.6 539.7 429.9 C541.0 433.1 542.1 436.5 543.3 439.8 C544.4 443.1 545.3 446.5 546.4 449.9 C547.5 453.2 548.7 456.5 549.7 459.9 C550.8 463.2 551.9 466.6 553.0 469.9 C554.1 473.2 555.2 476.6 556.4 479.9 C557.6 483.2 558.9 486.4 560.0 489.8 C561.1 493.1 561.9 496.5 563.0 499.9 C564.0 503.3 565.3 506.5 566.3 509.9 C567.4 513.2 568.1 516.7 569.2 520.0 C570.4 523.4 571.9 526.5 573.2 529.8 C574.4 533.1 575.7 536.4 576.7 539.8 C577.8 543.1 578.6 546.5 579.5 549.8 C580.4 553.2 581.0 556.7 581.9 560.0 C582.9 563.4 584.3 566.8 585.2 569.9 C586.1 573.1 586.3 576.1 587.1 579.1 C587.9 582.1 589.5 586.5 590.0 588.0" stroke="#7c7c7c" stroke-width="1.3" fill="none" stroke-linejoin="round"/><path d="M440.0 475.0 C441.2 475.7 444.9 478.0 447.5 479.3 C450.1 480.5 452.8 481.3 455.5 482.5 C458.1 483.7 460.6 485.0 463.2 486.2 C465.8 487.5 468.2 489.0 470.9 490.1 C473.6 491.1 476.4 491.5 479.2 492.6 C481.9 493.8 484.6 495.5 487.4 497.0 C490.2 498.4 492.9 499.9 495.7 501.2 C498.5 502.5 501.4 503.7 504.2 504.9 C507.1 506.0 509.1 507.2 513.0 508.1 C516.9 509.1 523.9 510.6 527.8 510.5 C531.6 510.3 533.3 508.1 536.2 507.1 C539.0 506.1 542.2 505.6 544.9 504.3 C547.6 503.0 549.8 500.5 552.5 499.1 C555.1 497.7 557.9 496.8 560.9 495.7 C563.8 494.6 567.3 494.0 570.3 492.7 C573.3 491.4 576.1 489.3 579.0 487.9 C581.9 486.5 588.2 486.5 587.7 484.4 C587.2 482.3 579.0 477.7 575.8 475.3 C572.7 472.9 571.4 471.4 568.9 469.9 C566.4 468.4 563.9 467.8 560.9 466.3 C557.8 464.7 553.9 462.5 550.4 460.6 C547.0 458.7 541.7 455.9 540.0 455.0" stroke="#7c7c7c" stroke-width="1.3" fill="none" stroke-linejoin="round"/><path d="M505.0 300.0 C505.0 301.7 505.2 306.7 504.9 310.0 C504.7 313.4 503.7 316.6 503.3 320.0 C503.0 323.3 502.7 326.7 502.8 330.0 C502.8 333.4 503.4 336.7 503.7 340.0 C504.1 343.3 504.7 346.6 504.8 350.0 C505.0 353.3 504.3 356.7 504.5 360.1 C504.7 363.4 505.5 366.8 506.1 370.1 C506.8 373.4 507.7 376.7 508.3 380.0 C509.0 383.3 509.2 386.7 510.0 390.0 C510.8 393.3 512.1 396.6 513.1 399.9 C514.2 403.2 515.3 406.4 516.2 409.8 C517.0 413.1 517.6 416.6 518.2 419.9 C518.9 423.3 519.3 426.7 520.2 430.0 C521.0 433.3 522.7 436.5 523.4 439.8 C524.1 443.2 523.9 446.7 524.5 450.1 C525.1 453.4 526.4 456.6 527.1 459.9 C527.9 463.2 528.2 466.6 528.8 469.9 C529.4 473.2 530.5 476.5 530.8 479.9 C531.1 483.3 530.2 486.8 530.4 490.1 C530.7 493.5 531.8 496.7 532.2 500.1 C532.7 503.4 532.9 506.7 533.3 510.1 C533.8 513.4 534.2 516.7 534.8 520.0 C535.4 523.3 536.4 526.6 536.8 529.9 C537.3 533.2 537.4 536.7 537.3 540.0 C537.2 543.4 536.5 546.7 536.3 550.0 C536.2 553.3 536.7 556.7 536.4 560.0 C536.0 563.4 534.5 566.6 534.2 569.9 C533.8 573.2 534.3 576.7 534.2 580.0 C534.1 583.4 534.0 586.7 533.6 590.1 C533.2 593.4 532.3 598.3 532.0 600.0" stroke="#7c7c7c" stroke-width="1.3" fill="none" stroke-linejoin="round"/><path d="M455.0 330.0 C455.3 331.7 455.6 336.9 456.5 340.2 C457.4 343.5 459.2 346.6 460.3 349.9 C461.3 353.1 462.2 356.4 462.8 359.8 C463.4 363.2 463.0 366.9 463.8 370.2 C464.6 373.6 466.7 376.6 467.9 379.9 C469.0 383.1 469.9 386.5 470.7 389.8 C471.4 393.2 471.6 396.7 472.4 400.1 C473.2 403.4 474.8 406.6 475.6 409.9 C476.4 413.3 476.4 416.9 477.3 420.2 C478.2 423.5 480.3 426.5 481.1 429.9 C482.0 433.2 481.7 436.9 482.5 440.2 C483.4 443.6 485.3 446.6 486.3 449.9 C487.3 453.2 487.8 456.7 488.5 460.0 C489.2 463.4 489.7 466.9 490.6 470.2 C491.4 473.5 492.9 476.7 493.7 480.1 C494.5 483.4 494.6 486.8 495.3 490.1 C495.9 493.5 496.7 496.8 497.6 500.1 C498.6 503.4 500.2 506.5 500.8 509.8 C501.4 513.2 500.8 516.8 501.3 520.1 C501.8 523.5 503.0 526.7 503.8 530.0 C504.7 533.3 505.5 536.6 506.3 539.9 C507.1 543.2 508.0 546.5 508.5 549.9 C509.1 553.3 508.8 556.8 509.4 560.1 C509.9 563.5 511.1 566.7 511.9 570.0 C512.6 573.4 513.1 576.9 513.9 580.2 C514.7 583.6 516.0 586.8 516.9 590.1 C517.7 593.5 517.9 596.1 519.2 600.3 C520.6 604.4 524.0 612.5 525.0 615.0" stroke="#7c7c7c" stroke-width="1.3" fill="none" stroke-linejoin="round"/><path d="M618.0 184.0 C618.5 185.8 620.1 191.2 621.3 194.8 C622.5 198.3 623.8 202.1 625.3 205.4 C626.7 208.6 628.1 211.4 629.9 214.3 C631.6 217.2 634.1 219.9 635.6 222.6 C637.2 225.3 637.9 228.0 639.4 230.6 C640.8 233.1 642.7 235.0 644.1 237.9 C645.6 240.9 646.5 244.7 647.9 248.0 C649.4 251.3 651.3 254.7 652.6 257.7 C654.0 260.8 654.9 263.4 656.0 266.3 C657.1 269.2 657.9 272.0 659.1 275.0 C660.3 277.9 661.8 280.8 663.0 283.8 C664.1 286.8 664.9 289.7 666.1 293.0 C667.2 296.3 668.7 300.1 669.8 303.8 C670.9 307.4 672.0 311.5 672.7 314.8 C673.5 318.1 673.5 320.6 674.3 323.4 C675.1 326.3 676.5 328.9 677.5 331.6 C678.4 334.4 679.2 337.2 680.0 340.0 C680.8 342.8 681.3 345.7 682.3 348.5 C683.2 351.2 684.5 353.9 685.6 356.6 C686.7 359.3 688.1 362.0 688.8 364.8 C689.5 367.6 689.2 370.6 689.8 373.5 C690.5 376.3 691.7 378.9 692.5 381.7 C693.3 384.5 693.9 387.0 694.7 390.1 C695.5 393.1 696.5 396.7 697.3 400.1 C698.0 403.4 698.3 406.9 699.2 410.2 C700.1 413.5 701.8 416.6 702.7 419.9 C703.7 423.2 704.6 428.3 705.0 430.0" stroke="#7c7c7c" stroke-width="1.3" fill="none" stroke-linejoin="round"/><path d="M635.0 170.0 C635.0 171.4 635.2 175.6 635.3 178.4 C635.4 181.1 635.3 184.0 635.7 186.7 C636.1 189.5 636.9 191.6 637.5 194.8 C638.2 198.0 638.5 202.3 639.6 205.8 C640.8 209.3 643.2 212.3 644.5 215.8 C645.9 219.4 646.4 223.5 647.7 227.1 C649.1 230.8 651.3 234.0 652.7 237.7 C654.1 241.4 654.6 245.5 656.1 249.2 C657.6 252.8 660.1 256.1 661.6 259.8 C663.1 263.4 663.8 267.4 665.2 271.1 C666.5 274.9 668.4 278.4 669.6 282.1 C670.8 285.8 671.5 289.5 672.5 293.1 C673.6 296.8 675.2 300.7 676.1 304.0 C677.0 307.3 677.1 309.9 677.7 312.8 C678.3 315.8 678.8 318.7 679.8 321.6 C680.8 324.4 682.8 327.0 683.7 329.8 C684.6 332.6 684.8 335.5 685.3 338.3 C685.8 341.2 686.2 344.1 686.9 346.9 C687.6 349.7 688.6 352.4 689.6 355.1 C690.6 357.9 691.7 360.6 692.8 363.3 C693.8 366.0 694.9 368.7 695.7 371.6 C696.4 374.4 696.3 377.5 697.2 380.2 C698.2 383.0 700.4 385.3 701.4 388.1 C702.3 390.9 702.2 394.0 702.9 396.8 C703.6 399.7 704.2 402.2 705.4 405.2 C706.6 408.2 708.8 411.5 710.1 414.8 C711.4 418.1 712.0 420.7 713.3 424.9 C714.6 429.1 717.2 437.5 718.0 440.0" stroke="#7c7c7c" stroke-width="1.3" fill="none" stroke-linejoin="round"/><path d="M648.0 168.0 C648.4 169.5 649.9 173.9 650.5 176.9 C651.2 180.0 651.3 183.2 651.9 186.2 C652.6 189.2 653.5 191.9 654.4 195.1 C655.3 198.3 656.8 201.9 657.5 205.4 C658.2 208.9 657.6 213.0 658.4 216.2 C659.2 219.5 660.9 222.2 662.3 225.1 C663.7 228.0 665.8 230.6 666.8 233.8 C667.8 237.0 667.3 240.9 668.2 244.2 C669.2 247.6 671.1 250.5 672.4 253.9 C673.7 257.2 674.7 260.9 675.8 264.4 C676.9 267.9 678.0 271.3 679.1 275.0 C680.3 278.6 681.4 282.4 682.9 286.1 C684.3 289.7 686.4 293.4 687.6 296.8 C688.9 300.1 689.2 303.1 690.2 306.1 C691.2 309.2 692.4 312.3 693.4 315.2 C694.5 318.1 695.7 320.6 696.6 323.3 C697.5 326.1 698.0 329.0 698.8 331.8 C699.7 334.6 700.9 337.3 701.8 340.1 C702.7 342.8 703.1 345.8 704.1 348.5 C705.1 351.2 706.9 353.8 707.9 356.5 C708.9 359.2 709.4 362.1 710.2 364.9 C711.0 367.7 711.8 370.6 712.7 373.3 C713.7 376.1 715.3 378.6 716.0 381.4 C716.8 384.3 716.2 387.0 717.2 390.3 C718.2 393.6 720.2 397.5 721.8 401.1 C723.3 404.7 725.2 408.2 726.7 411.7 C728.1 415.2 728.9 418.7 730.4 422.1 C731.8 425.4 733.7 428.7 735.1 431.9 C736.6 435.2 737.9 438.1 739.0 441.3 C740.2 444.5 741.5 449.4 742.0 451.0" stroke="#7c7c7c" stroke-width="1.3" fill="none" stroke-linejoin="round"/><path d="M676.0 151.0 C676.2 152.8 676.5 158.4 677.1 162.1 C677.6 165.7 678.8 169.3 679.5 172.9 C680.3 176.5 681.0 180.2 681.5 183.9 C682.1 187.6 682.1 191.5 682.8 195.0 C683.5 198.6 685.2 201.8 685.8 205.4 C686.4 208.9 686.0 212.5 686.5 216.1 C687.1 219.7 688.0 223.5 689.0 227.1 C690.1 230.7 692.0 234.2 692.8 237.9 C693.6 241.5 693.1 245.4 693.7 249.1 C694.2 252.8 695.3 256.3 696.0 260.0 C696.7 263.7 697.2 267.3 697.8 271.0 C698.3 274.7 698.6 278.5 699.2 282.2 C699.9 285.9 700.7 289.6 701.6 293.2 C702.6 296.8 704.4 300.7 705.2 304.0 C705.9 307.2 705.6 309.9 706.1 312.8 C706.5 315.7 707.3 318.5 707.8 321.4 C708.3 324.3 708.3 327.4 709.2 330.2 C710.0 333.0 712.1 335.4 712.8 338.1 C713.5 340.9 712.6 344.1 713.2 346.9 C713.8 349.6 715.6 352.2 716.5 354.9 C717.4 357.6 718.1 360.4 718.6 363.2 C719.2 366.0 719.4 368.9 719.8 371.7 C720.3 374.5 720.7 377.4 721.4 380.2 C722.1 383.0 722.9 385.8 723.9 388.6 C724.9 391.3 726.6 393.8 727.6 396.6 C728.5 399.4 728.1 402.3 729.5 405.3 C730.8 408.3 734.1 411.2 735.8 414.6 C737.4 418.0 736.8 422.3 739.5 425.6 C742.2 429.0 749.9 433.4 752.0 435.0" stroke="#7c7c7c" stroke-width="1.3" fill="none" stroke-linejoin="round"/><path d="M699.0 190.0 C700.3 190.4 704.0 190.3 706.8 192.2 C709.6 194.0 713.8 198.4 715.7 201.1 C717.6 203.9 717.1 206.4 718.2 208.8 C719.4 211.3 721.2 212.8 722.5 215.8 C723.9 218.8 725.3 223.1 726.2 226.8 C727.2 230.5 727.6 234.4 728.4 238.1 C729.3 241.8 730.5 245.3 731.3 248.9 C732.1 252.6 732.6 256.3 733.2 259.9 C733.8 263.6 734.1 267.5 734.9 271.1 C735.8 274.8 737.8 278.2 738.6 281.9 C739.3 285.6 738.7 289.4 739.3 293.1 C739.9 296.8 741.2 300.8 742.0 304.0 C742.8 307.2 743.8 309.6 744.1 312.5 C744.4 315.5 743.6 318.5 743.9 321.4 C744.2 324.4 745.1 327.2 745.9 330.0 C746.7 332.8 748.1 335.4 748.7 338.2 C749.3 341.0 748.9 344.0 749.4 346.8 C749.9 349.6 750.7 352.1 751.5 355.1 C752.3 358.2 753.3 361.8 754.2 365.1 C755.2 368.4 756.2 371.7 757.1 375.1 C757.9 378.4 758.0 382.3 759.2 385.3 C760.4 388.3 763.0 390.2 764.1 393.0 C765.3 395.8 764.9 399.1 765.9 402.0 C766.8 404.8 768.2 407.3 769.8 410.1 C771.4 412.9 773.7 415.8 775.4 418.8 C777.1 421.8 776.7 426.0 779.9 428.2 C783.2 430.4 792.5 431.4 795.0 432.0" stroke="#7c7c7c" stroke-width="1.3" fill="none" stroke-linejoin="round"/><path d="M622.0 175.0 C621.4 177.5 619.1 185.8 618.7 189.9 C618.3 194.1 619.5 196.6 619.7 199.9 C619.9 203.3 619.4 207.0 619.8 210.0 C620.3 213.1 621.5 215.5 622.2 218.2 C622.9 221.0 623.5 223.7 624.0 226.5 C624.5 229.3 624.5 232.2 625.1 235.0 C625.6 237.8 626.6 240.5 627.5 243.3 C628.3 246.1 629.4 248.8 630.2 251.5 C630.9 254.3 631.5 257.1 632.2 259.9 C632.8 262.8 633.1 265.8 634.1 268.5 C635.0 271.3 636.9 273.7 638.0 276.5 C639.0 279.2 639.6 282.1 640.5 284.8 C641.5 287.6 642.6 290.3 643.5 293.1 C644.4 295.9 644.9 298.7 645.8 301.5 C646.6 304.3 648.0 306.9 648.7 309.8 C649.4 312.6 649.0 315.8 649.8 318.6 C650.7 321.4 652.8 323.8 653.7 326.6 C654.5 329.3 654.2 332.5 655.2 335.3 C656.1 338.0 658.4 340.4 659.3 343.1 C660.2 345.9 659.9 349.1 660.6 351.9 C661.4 354.7 663.0 357.2 664.0 360.0 C664.9 362.8 665.5 365.6 666.3 368.4 C667.2 371.2 668.0 374.0 669.1 376.8 C670.1 379.5 671.2 381.8 672.4 384.8 C673.6 387.9 675.2 391.4 676.4 394.8 C677.7 398.2 678.2 402.3 679.7 405.2 C681.2 408.1 683.8 409.7 685.6 412.1 C687.3 414.6 689.3 418.7 690.0 420.0" stroke="#7c7c7c" stroke-width="1.3" fill="none" stroke-linejoin="round"/><path d="M640.0 180.0 C641.7 179.7 646.6 177.3 650.0 178.1 C653.3 178.9 657.9 181.2 660.3 184.9 C662.7 188.6 663.4 196.2 664.4 200.1 C665.4 204.0 665.9 205.5 666.4 208.3 C666.8 211.1 666.7 213.9 667.0 216.7 C667.3 219.4 667.9 222.2 668.3 225.0 C668.7 227.7 669.2 230.5 669.5 233.3 C669.7 236.1 669.3 239.0 669.8 241.8 C670.4 244.6 672.0 247.1 672.7 249.8 C673.4 252.6 673.5 255.5 674.1 258.3 C674.7 261.1 675.8 263.8 676.5 266.6 C677.2 269.3 677.8 272.1 678.3 274.9 C678.8 277.8 678.7 280.8 679.5 283.6 C680.3 286.4 682.1 288.8 683.0 291.6 C683.9 294.3 684.1 297.3 684.8 300.1 C685.6 302.8 686.7 305.5 687.5 308.3 C688.2 311.1 688.5 314.0 689.3 316.8 C690.0 319.6 691.1 322.1 692.1 325.0 C693.1 327.8 694.3 330.8 695.2 333.8 C696.1 336.8 696.6 339.9 697.4 343.0 C698.3 346.0 699.4 349.0 700.2 352.0 C700.9 354.9 701.3 357.9 702.2 360.8 C703.0 363.7 704.2 366.5 705.2 369.4 C706.3 372.2 707.4 374.5 708.5 377.8 C709.6 381.1 710.4 385.4 711.7 389.1 C713.0 392.8 715.1 396.4 716.3 399.9 C717.6 403.4 718.0 406.7 719.0 410.0 C719.9 413.4 721.5 418.3 722.0 420.0" stroke="#7c7c7c" stroke-width="1.3" fill="none" stroke-linejoin="round"/><path d="M660.0 175.0 C660.1 176.4 660.3 180.6 660.6 183.3 C660.9 186.1 661.3 188.9 661.7 191.6 C662.1 194.4 662.6 196.8 662.8 199.9 C663.1 203.0 662.7 206.7 663.1 210.0 C663.5 213.4 664.6 216.6 665.2 219.9 C665.7 223.2 665.9 226.6 666.4 229.9 C666.9 233.3 667.6 236.6 668.2 240.0 C668.7 243.3 669.3 246.7 669.8 250.0 C670.2 253.4 670.3 256.9 671.1 260.2 C672.0 263.5 673.8 266.6 674.7 270.0 C675.6 273.3 675.7 276.9 676.5 280.2 C677.2 283.6 678.1 286.9 679.1 290.2 C680.1 293.5 681.5 296.6 682.5 299.9 C683.4 303.2 684.1 306.5 684.8 309.8 C685.4 313.2 686.2 316.5 686.6 319.9 C687.0 323.3 686.9 326.8 687.4 330.1 C687.9 333.5 689.2 336.7 689.8 340.0 C690.5 343.4 690.9 346.7 691.3 350.1 C691.6 353.4 691.7 356.8 692.2 360.1 C692.6 363.4 693.3 366.7 693.7 370.0 C694.2 373.3 694.5 376.7 694.9 380.0 C695.4 383.3 696.1 386.6 696.4 389.9 C696.8 393.3 697.2 396.6 697.2 399.9 C697.2 403.3 696.4 406.7 696.5 410.1 C696.5 413.4 697.3 416.7 697.7 420.0 C698.0 423.4 698.2 426.7 698.5 430.0 C698.9 433.4 699.2 436.7 699.9 440.0 C700.5 443.4 701.5 446.7 702.4 450.1 C703.2 453.4 704.3 456.7 705.1 460.1 C705.9 463.4 706.2 466.9 707.3 470.2 C708.5 473.5 710.8 476.5 712.0 479.8 C713.2 483.1 713.6 486.6 714.7 490.0 C715.7 493.4 717.5 496.8 718.3 499.9 C719.2 503.0 719.1 505.7 719.8 508.5 C720.4 511.3 721.1 514.1 722.0 516.8 C723.0 519.6 724.4 521.8 725.4 524.9 C726.4 527.9 727.6 533.3 728.0 535.0" stroke="#7c7c7c" stroke-width="1.3" fill="none" stroke-linejoin="round"/><path d="M676.0 150.0 C677.8 149.7 683.2 148.8 686.8 148.1 C690.4 147.4 694.2 146.5 697.8 145.8 C701.5 145.1 705.3 144.3 709.0 143.8 C712.7 143.3 716.4 143.4 720.0 142.8 C723.7 142.3 727.5 141.4 730.8 140.4 C734.1 139.4 736.7 138.1 739.8 137.0 C742.8 135.9 745.8 134.8 748.8 133.9 C751.9 132.9 755.2 132.7 758.2 131.4 C761.2 130.2 763.7 127.8 766.7 126.4 C769.7 125.1 773.1 124.6 776.2 123.4 C779.2 122.2 782.2 120.8 785.1 119.3 C788.0 117.8 790.7 116.0 793.7 114.4 C796.6 112.9 799.8 111.6 802.7 110.1 C805.6 108.5 808.4 106.6 811.3 104.9 C814.1 103.2 817.4 101.8 819.9 99.9 C822.4 98.0 824.5 96.0 826.4 93.6 C828.2 91.2 829.0 88.1 830.8 85.5 C832.5 83.0 834.0 79.8 836.7 78.2 C839.3 76.6 843.6 77.0 846.8 75.7 C850.0 74.5 853.4 72.8 855.9 70.9 C858.4 69.0 859.9 66.4 861.9 64.3 C864.0 62.2 866.3 60.2 868.5 58.1 C870.6 56.1 873.0 54.9 874.8 51.9 C876.5 48.9 878.3 42.0 879.0 40.0" stroke="#7c7c7c" stroke-width="1.3" fill="none" stroke-linejoin="round"/><path d="M622.0 320.0 C623.2 319.1 626.5 316.3 628.9 314.7 C631.3 313.1 633.9 311.7 636.4 310.2 C638.9 308.7 641.3 307.0 643.8 305.7 C646.4 304.4 649.2 303.7 651.7 302.3 C654.2 300.9 656.3 298.8 658.7 297.3 C661.1 295.8 663.2 294.9 666.2 293.4 C669.1 291.8 672.7 289.4 676.2 287.8 C679.7 286.3 683.3 285.3 687.0 284.0 C690.7 282.7 694.6 281.6 698.2 280.1 C701.9 278.6 705.3 276.4 709.0 275.0 C712.7 273.7 716.6 273.0 720.3 271.8 C724.0 270.5 727.7 269.2 731.3 267.6 C734.9 266.1 738.3 264.0 741.9 262.3 C745.5 260.5 749.3 258.4 752.7 257.2 C756.1 256.0 759.1 256.2 762.2 255.1 C765.2 254.0 767.9 252.0 770.8 250.7 C773.7 249.4 776.3 248.7 779.5 247.3 C782.8 245.8 786.8 243.8 790.2 241.8 C793.7 239.9 796.8 237.0 800.1 235.6 C803.5 234.2 806.8 234.0 810.1 233.3 C813.5 232.5 816.9 232.1 820.2 231.1 C823.5 230.2 827.0 228.7 829.8 227.5 C832.6 226.3 834.7 225.2 837.2 224.1 C839.7 223.0 842.1 221.7 844.7 220.9 C847.3 220.0 850.3 220.1 852.8 219.0 C855.3 218.0 857.2 215.6 859.8 214.3 C862.3 213.1 865.5 212.4 868.3 211.4 C871.1 210.4 873.9 209.2 876.7 208.2 C879.5 207.2 882.3 206.1 885.2 205.2 C888.1 204.4 892.5 203.4 894.0 203.0" stroke="#7c7c7c" stroke-width="1.3" fill="none" stroke-linejoin="round"/><path d="M860.0 327.0 C858.7 327.6 855.0 329.6 852.4 330.9 C849.9 332.2 847.4 333.5 844.9 334.8 C842.4 336.1 839.7 337.1 837.2 338.5 C834.8 339.9 832.7 341.6 830.3 343.3 C827.8 345.0 825.0 346.9 822.3 348.8 C819.7 350.7 816.6 352.4 814.4 354.6 C812.3 356.8 810.9 359.5 809.4 362.1 C807.9 364.7 806.9 367.2 805.5 370.2 C804.2 373.2 802.5 376.6 801.2 379.9 C800.0 383.2 798.4 386.6 797.8 390.0 C797.2 393.3 797.8 396.6 797.5 400.0 C797.2 403.4 795.8 406.0 796.2 410.2 C796.6 414.3 800.7 421.0 800.0 425.0 C799.3 429.0 795.7 432.8 792.0 434.1 C788.3 435.4 780.3 433.2 778.0 433.0" stroke="#7c7c7c" stroke-width="1.3" fill="none" stroke-linejoin="round"/><path d="M708.0 200.0 C708.2 201.7 708.9 206.7 709.3 210.0 C709.7 213.3 710.2 216.7 710.5 220.0 C710.9 223.4 710.9 226.8 711.4 230.1 C711.9 233.5 712.6 236.8 713.3 240.1 C714.0 243.5 714.5 246.8 715.3 250.1 C716.1 253.4 717.5 256.6 718.2 259.9 C718.9 263.3 718.8 266.8 719.5 270.2 C720.3 273.5 721.8 276.7 722.8 280.0 C723.8 283.3 724.5 286.6 725.3 289.9 C726.2 293.2 727.3 296.5 728.0 299.8 C728.8 303.2 728.9 306.7 729.6 310.0 C730.4 313.3 731.7 316.5 732.6 319.8 C733.5 323.2 734.3 326.5 735.1 329.9 C735.8 333.3 736.4 336.7 737.1 340.1 C737.9 343.4 738.6 346.8 739.5 350.2 C740.5 353.5 741.6 356.9 742.9 360.1 C744.2 363.4 746.1 366.5 747.4 369.8 C748.7 373.0 749.7 376.8 750.7 379.7 C751.7 382.6 752.5 384.8 753.4 387.3 C754.3 389.9 755.1 392.5 755.9 395.0 C756.8 397.6 757.5 400.2 758.4 402.7 C759.4 405.3 760.0 407.3 761.5 410.3 C763.1 413.2 765.6 417.1 767.8 420.4 C770.1 423.7 772.5 427.7 774.9 430.1 C777.3 432.6 779.8 433.6 782.4 435.2 C784.9 436.8 788.7 439.2 790.0 440.0" stroke="#7c7c7c" stroke-width="1.3" fill="none" stroke-linejoin="round"/><path d="M630.0 178.0 C630.5 179.2 632.2 182.9 633.3 185.4 C634.3 187.8 635.2 190.4 636.3 192.9 C637.3 195.3 638.6 197.5 639.6 200.1 C640.5 202.7 641.0 205.8 642.0 208.5 C643.1 211.3 644.8 213.8 645.7 216.5 C646.6 219.3 646.4 222.5 647.2 225.3 C648.0 228.1 649.6 230.6 650.6 233.4 C651.5 236.1 652.1 239.0 652.9 241.8 C653.7 244.6 654.7 247.3 655.6 250.1 C656.4 252.9 656.9 255.8 657.9 258.6 C659.0 261.3 660.7 263.8 661.7 266.5 C662.8 269.3 663.5 272.1 664.2 274.9 C665.0 277.7 665.5 280.7 666.3 283.5 C667.1 286.3 668.3 288.9 669.2 291.7 C670.1 294.5 670.6 297.4 671.6 300.1 C672.5 302.9 674.1 305.5 674.9 308.3 C675.7 311.1 675.6 314.2 676.6 316.9 C677.5 319.7 679.9 322.0 680.8 324.7 C681.8 327.5 681.5 330.6 682.3 333.5 C683.1 336.3 684.5 338.9 685.5 341.6 C686.6 344.3 688.0 346.9 688.8 349.7 C689.6 352.5 689.5 355.6 690.4 358.4 C691.2 361.2 693.1 363.7 694.1 366.4 C695.1 369.2 695.6 372.1 696.5 374.9 C697.3 377.7 698.1 380.5 699.0 383.2 C699.9 386.0 701.0 388.7 701.9 391.5 C702.9 394.2 703.4 396.7 704.6 399.8 C705.7 402.8 707.5 406.3 708.7 409.7 C710.0 413.1 711.5 418.3 712.0 420.0" stroke="#7c7c7c" stroke-width="1.3" fill="none" stroke-linejoin="round"/><path d="M445.0 258.0 C445.3 259.3 446.3 263.3 446.6 266.0 C446.8 268.6 446.4 271.4 446.6 274.1 C446.9 276.8 447.5 279.5 447.9 282.1 C448.4 284.8 448.6 287.2 449.3 290.2 C450.0 293.2 451.3 296.8 452.2 300.1 C453.1 303.5 453.6 306.9 454.7 310.2 C455.8 313.4 457.9 316.5 458.9 319.8 C459.8 323.1 459.6 326.7 460.4 330.1 C461.3 333.4 462.9 336.5 463.8 339.9 C464.6 343.2 464.8 346.8 465.6 350.1 C466.4 353.5 467.8 356.6 468.8 360.0 C469.7 363.3 470.4 366.7 471.2 370.0 C472.1 373.4 473.0 376.7 473.9 380.0 C474.9 383.4 476.0 386.7 476.9 390.0 C477.8 393.4 478.6 396.8 479.4 400.2 C480.3 403.5 481.0 407.0 482.2 410.2 C483.3 413.5 485.2 416.6 486.3 419.9 C487.3 423.2 487.6 426.8 488.5 430.2 C489.3 433.5 490.3 436.9 491.3 440.2 C492.4 443.5 493.7 446.7 494.9 449.9 C496.0 453.2 497.1 456.5 498.0 459.8 C498.8 463.2 499.3 466.6 500.0 470.0 C500.7 473.4 501.3 476.8 502.2 480.1 C503.1 483.5 504.2 486.7 505.3 490.0 C506.3 493.3 507.8 496.5 508.6 499.9 C509.3 503.2 509.0 506.7 509.6 510.1 C510.3 513.4 511.7 516.6 512.3 519.9 C512.9 523.3 512.6 526.8 513.3 530.1 C514.0 533.5 515.8 536.6 516.6 539.9 C517.3 543.2 517.2 546.7 517.8 550.0 C518.4 553.4 519.8 556.6 520.2 560.0 C520.6 563.3 520.0 566.8 520.5 570.1 C521.0 573.4 522.8 576.6 523.3 579.9 C523.8 583.2 523.0 586.5 523.3 590.1 C523.6 593.6 524.7 597.3 525.1 601.0 C525.6 604.6 525.9 610.2 526.0 612.0" stroke="#7c7c7c" stroke-width="1.3" fill="none" stroke-linejoin="round"/><path d="M462.0 270.0 C462.3 271.7 462.9 276.8 463.7 280.1 C464.5 283.4 466.0 286.5 466.7 289.9 C467.4 293.2 467.2 296.7 467.8 300.1 C468.4 303.4 469.2 306.8 470.1 310.2 C470.9 313.5 471.8 316.8 472.8 320.2 C473.7 323.5 474.9 326.7 476.0 330.0 C477.0 333.3 478.0 336.8 479.1 340.1 C480.3 343.4 481.7 346.6 482.9 349.9 C484.0 353.2 484.8 356.7 486.0 360.0 C487.1 363.3 488.9 366.4 490.0 369.8 C491.1 373.1 491.4 376.7 492.4 380.1 C493.3 383.5 494.6 386.8 495.8 390.1 C497.1 393.4 498.5 396.6 499.7 399.9 C500.9 403.2 501.9 406.6 502.9 409.9 C503.9 413.3 504.5 416.8 505.6 420.1 C506.7 423.5 508.4 426.6 509.4 430.0 C510.5 433.3 510.9 436.9 511.9 440.3 C512.8 443.6 514.1 446.9 515.2 450.2 C516.2 453.5 516.9 456.9 518.1 460.2 C519.2 463.4 520.9 466.5 522.0 469.8 C523.2 473.1 523.9 476.5 524.7 479.8 C525.6 483.2 526.2 486.5 527.0 489.9 C527.8 493.3 528.8 496.6 529.6 499.9 C530.3 503.3 530.9 506.7 531.6 510.1 C532.4 513.5 533.2 516.8 534.1 520.2 C535.0 523.5 536.3 526.7 537.2 530.0 C538.2 533.3 538.9 536.7 539.8 540.1 C540.6 543.4 541.5 546.7 542.5 550.0 C543.6 553.3 545.2 556.5 546.1 559.8 C547.0 563.1 547.1 566.9 548.0 570.0 C548.8 573.1 550.2 575.4 551.2 578.2 C552.1 580.9 552.5 583.9 553.5 586.6 C554.4 589.4 555.7 591.6 556.8 594.7 C557.9 597.7 559.5 603.3 560.0 605.0" stroke="#7c7c7c" stroke-width="1.3" fill="none" stroke-linejoin="round"/><path d="M478.0 262.0 C478.2 263.7 478.6 268.7 479.1 272.0 C479.6 275.4 480.4 278.6 480.8 282.0 C481.2 285.3 480.9 288.8 481.6 292.1 C482.3 295.4 484.1 298.5 484.8 301.8 C485.4 305.2 485.1 308.7 485.7 312.1 C486.2 315.4 487.4 318.6 488.2 321.9 C489.0 325.3 489.5 328.7 490.5 332.1 C491.4 335.4 492.9 338.5 493.9 341.8 C494.9 345.2 495.3 348.6 496.3 351.9 C497.2 355.2 498.6 358.5 499.7 361.9 C500.8 365.2 502.0 368.5 503.0 371.9 C503.9 375.3 504.6 379.2 505.6 382.2 C506.6 385.1 508.1 387.0 509.0 389.5 C510.0 392.0 510.3 394.8 511.2 397.3 C512.2 399.8 513.7 402.1 514.9 404.6 C516.1 407.0 517.5 409.3 518.5 411.8 C519.5 414.3 519.9 417.0 520.8 419.6 C521.7 422.1 522.8 424.6 524.0 427.0 C525.1 429.5 526.6 431.8 527.6 434.3 C528.6 436.8 528.9 439.5 530.0 442.0 C531.0 444.5 532.8 446.7 533.8 449.2 C534.9 451.7 535.4 454.4 536.2 456.9 C537.1 459.5 538.0 462.0 538.9 464.5 C539.9 467.1 540.7 469.1 541.7 472.1 C542.6 475.1 543.4 478.9 544.5 482.3 C545.7 485.6 547.1 488.8 548.5 492.1 C549.9 495.3 551.8 498.5 552.8 501.8 C553.9 505.1 553.9 508.6 554.7 512.0 C555.5 515.3 557.0 518.5 557.8 521.9 C558.6 525.2 559.0 528.8 559.6 532.1 C560.2 535.4 560.4 538.4 561.3 541.5 C562.2 544.6 564.0 547.4 564.7 550.5 C565.4 553.6 565.0 557.1 565.5 560.1 C566.0 563.0 567.1 565.5 567.7 568.3 C568.3 571.0 568.8 573.8 569.2 576.6 C569.6 579.4 569.9 583.6 570.0 585.0" stroke="#7c7c7c" stroke-width="1.3" fill="none" stroke-linejoin="round"/><path d="M527.0 262.0 C526.9 263.6 526.7 268.4 526.3 271.6 C525.9 274.7 525.1 277.9 524.7 281.0 C524.3 284.2 524.2 287.4 523.8 290.6 C523.4 293.7 522.6 297.1 522.2 300.0 C521.8 302.9 521.7 305.3 521.5 308.0 C521.3 310.7 521.0 313.3 520.9 316.0 C520.9 318.7 521.3 321.4 521.2 324.0 C521.2 326.7 520.8 329.4 520.7 332.0 C520.5 334.7 520.6 337.3 520.6 339.9 C520.5 342.6 520.0 345.4 520.2 348.1 C520.5 350.7 521.7 353.3 522.0 356.0 C522.2 358.6 521.4 361.4 521.7 364.1 C522.0 366.7 523.4 369.3 524.0 371.9 C524.5 374.5 524.6 377.2 524.9 379.8 C525.2 382.5 525.3 385.3 525.7 388.0 C526.1 390.7 526.9 393.3 527.3 396.0 C527.8 398.7 528.0 401.4 528.4 404.1 C528.8 406.8 529.1 409.5 529.8 412.1 C530.4 414.8 531.2 417.4 532.0 420.0 C532.7 422.6 533.7 425.2 534.3 427.9 C535.0 430.6 535.0 433.4 535.6 436.1 C536.2 438.8 537.3 441.3 538.1 444.0 C538.9 446.6 539.7 449.2 540.4 451.9 C541.1 454.6 541.6 457.3 542.3 459.9 C543.1 462.6 544.3 465.1 544.9 467.8 C545.4 470.5 545.0 473.4 545.6 476.1 C546.3 478.8 548.0 481.2 548.8 483.8 C549.6 486.4 550.0 489.2 550.5 491.9 C551.0 494.6 551.3 497.3 551.8 500.0 C552.3 502.7 552.9 505.4 553.4 508.0 C553.9 510.7 554.5 513.4 555.0 516.0 C555.5 518.7 556.1 521.4 556.6 524.0 C557.0 526.7 557.4 529.4 557.9 532.1 C558.3 534.8 558.7 537.1 559.2 540.2 C559.8 543.2 560.3 546.9 561.2 550.2 C562.0 553.5 563.4 556.7 564.2 560.0 C565.0 563.3 565.4 566.7 566.3 569.9 C567.1 573.1 568.4 576.0 569.3 579.2 C570.2 582.3 570.7 585.5 571.5 588.6 C572.2 591.8 573.6 596.4 574.0 598.0" stroke="#7c7c7c" stroke-width="1.3" fill="none" stroke-linejoin="round"/><path d="M548.0 250.0 C548.1 251.3 548.7 255.3 548.9 258.0 C549.0 260.7 548.5 263.4 548.9 266.1 C549.3 268.7 550.8 271.3 551.2 273.9 C551.7 276.6 551.6 279.3 551.6 282.0 C551.6 284.7 551.0 287.4 551.2 290.1 C551.3 292.8 552.0 295.4 552.5 298.0 C553.0 300.7 553.9 303.3 554.3 305.9 C554.6 308.6 554.6 311.3 554.7 314.0 C554.7 316.7 554.3 319.4 554.5 322.1 C554.8 324.7 555.5 327.3 556.1 330.0 C556.7 332.6 557.8 335.2 558.0 337.9 C558.3 340.6 557.3 343.4 557.7 346.1 C558.1 348.8 559.8 351.2 560.3 353.9 C560.7 356.6 560.3 359.3 560.5 362.0 C560.8 364.7 561.3 367.4 561.8 370.0 C562.3 372.7 563.2 375.3 563.7 378.0 C564.1 380.7 563.8 383.5 564.4 386.2 C565.0 388.8 566.7 391.2 567.4 393.9 C568.0 396.5 567.7 399.4 568.2 402.0 C568.8 404.7 570.3 407.2 570.7 409.9 C571.1 412.6 570.3 415.5 570.8 418.2 C571.3 420.8 573.2 423.2 573.8 425.9 C574.5 428.5 574.4 431.3 574.8 434.0 C575.1 436.7 575.4 439.4 575.8 442.1 C576.2 444.8 576.6 447.5 577.3 450.1 C578.0 452.7 579.5 455.2 579.9 457.9 C580.3 460.6 579.5 463.4 579.7 466.1 C579.9 468.8 580.4 471.4 581.0 474.1 C581.6 476.7 582.7 479.3 583.1 482.0 C583.6 484.6 583.1 487.1 583.5 490.1 C584.0 493.1 585.2 496.6 585.8 499.9 C586.4 503.2 586.8 506.6 587.3 509.9 C587.7 513.3 588.3 516.6 588.6 519.9 C588.9 523.3 589.1 526.6 589.3 530.0 C589.6 533.3 589.9 538.3 590.0 540.0" stroke="#7c7c7c" stroke-width="1.3" fill="none" stroke-linejoin="round"/><path d="M655.0 178.0 C655.3 179.5 656.2 184.0 656.9 187.0 C657.5 189.9 658.2 192.9 658.8 195.9 C659.4 198.9 660.1 201.6 660.6 204.8 C661.1 208.1 661.2 211.8 661.9 215.2 C662.7 218.6 664.2 221.7 665.2 225.0 C666.2 228.4 666.8 231.8 667.7 235.1 C668.6 238.4 669.6 241.7 670.6 245.0 C671.6 248.3 672.7 251.6 673.5 254.9 C674.4 258.3 674.7 261.8 675.6 265.1 C676.5 268.5 677.9 271.7 678.9 275.0 C679.9 278.4 680.5 281.8 681.5 285.1 C682.5 288.5 683.7 291.7 684.7 295.1 C685.7 298.4 686.4 301.9 687.4 305.2 C688.5 308.5 689.9 311.7 691.1 315.0 C692.3 318.2 693.5 321.5 694.6 324.8 C695.7 328.1 696.8 331.4 697.6 334.8 C698.4 338.2 698.6 341.8 699.6 345.1 C700.6 348.5 702.6 351.5 703.6 354.8 C704.6 358.2 704.9 361.7 705.7 365.1 C706.6 368.5 707.6 371.8 708.8 375.1 C710.0 378.3 711.7 381.5 712.7 384.7 C713.8 387.9 713.7 391.2 714.9 394.2 C716.0 397.2 718.4 399.7 719.5 402.7 C720.5 405.7 720.2 409.0 721.4 412.3 C722.6 415.6 724.7 419.0 726.5 422.3 C728.2 425.6 731.1 430.4 732.0 432.0" stroke="#7c7c7c" stroke-width="1.3" fill="none" stroke-linejoin="round"/><path d="M690.0 180.0 C690.2 181.7 690.5 186.7 691.1 190.0 C691.7 193.3 693.0 196.6 693.5 199.9 C694.1 203.2 693.9 206.6 694.4 209.9 C694.9 213.3 696.0 216.5 696.5 219.9 C697.0 223.3 697.0 226.7 697.6 230.1 C698.1 233.4 699.0 236.7 699.7 240.1 C700.4 243.4 700.9 246.9 702.0 250.2 C703.0 253.5 705.0 256.5 706.1 259.8 C707.1 263.1 707.2 266.6 708.1 270.0 C709.0 273.3 710.5 276.5 711.5 279.8 C712.4 283.1 713.1 286.5 713.8 289.9 C714.6 293.2 715.0 296.7 716.0 300.0 C716.9 303.3 718.5 306.5 719.5 309.8 C720.5 313.1 721.1 316.5 721.9 319.9 C722.6 323.2 722.9 326.7 723.7 330.1 C724.6 333.4 725.8 336.7 726.9 340.0 C728.0 343.3 729.5 346.5 730.5 349.9 C731.5 353.2 732.0 356.7 732.8 360.0 C733.7 363.4 734.3 366.9 735.5 370.2 C736.6 373.4 738.8 376.4 739.9 379.7 C740.9 383.1 740.6 387.1 741.5 390.2 C742.3 393.3 743.8 395.7 745.0 398.5 C746.2 401.2 747.7 403.9 748.9 406.6 C750.2 409.3 751.0 411.7 752.5 414.6 C754.0 417.5 755.8 421.1 757.8 424.0 C759.9 426.9 763.8 430.7 765.0 432.0" stroke="#7c7c7c" stroke-width="1.3" fill="none" stroke-linejoin="round"/><path d="M818.0 37.0 C818.9 38.0 822.0 40.8 823.7 43.0 C825.3 45.2 826.1 47.9 827.7 50.2 C829.4 52.5 831.8 54.3 833.5 56.6 C835.2 58.9 835.8 60.9 838.1 64.0 C840.3 67.1 843.8 71.5 846.8 75.2 C849.7 78.9 853.1 82.9 855.5 86.2 C857.9 89.6 859.3 92.3 861.1 95.5 C862.8 98.6 864.3 101.9 866.0 105.0 C867.7 108.1 869.8 111.0 871.3 114.1 C872.8 117.3 874.0 120.6 875.1 124.0 C876.2 127.4 877.0 130.9 877.7 134.4 C878.4 138.0 878.8 141.9 879.4 145.1 C880.0 148.3 880.9 150.7 881.4 153.5 C881.9 156.3 881.9 159.2 882.6 162.1 C883.2 165.0 884.3 168.0 885.1 171.0 C886.0 173.9 887.1 176.8 887.6 179.9 C888.0 183.0 887.6 186.4 887.9 189.6 C888.2 192.8 888.9 195.9 889.4 199.1 C890.0 202.2 890.7 205.3 891.2 208.5 C891.8 211.6 892.4 214.8 892.7 217.9 C893.0 221.1 892.8 224.3 893.0 227.5 C893.2 230.7 893.8 233.8 894.0 237.0 C894.3 240.2 894.2 243.4 894.5 246.6 C894.8 249.7 895.4 252.9 895.8 256.0 C896.2 259.1 896.6 262.0 897.0 265.0 C897.3 268.0 897.6 270.9 897.9 274.0 C898.2 277.1 898.4 280.3 898.7 283.5 C899.0 286.6 899.5 289.8 899.8 293.0 C900.1 296.1 900.3 299.3 900.3 302.5 C900.3 305.6 900.0 310.4 900.0 312.0" stroke="#7c7c7c" stroke-width="1.3" fill="none" stroke-linejoin="round"/><path d="M879.0 39.0 C879.9 41.2 882.8 48.4 884.2 51.9 C885.5 55.4 886.1 57.3 886.9 60.0 C887.8 62.7 888.3 65.2 889.4 68.2 C890.5 71.2 892.4 74.6 893.6 77.8 C894.7 81.1 895.5 84.8 896.5 87.9 C897.4 90.9 898.4 93.4 899.3 96.3 C900.2 99.1 900.7 101.8 901.7 104.8 C902.6 107.8 903.9 111.1 904.8 114.2 C905.8 117.4 906.7 120.6 907.6 123.8 C908.4 127.0 909.2 130.3 910.0 133.5 C910.7 136.7 911.5 140.1 912.1 143.1 C912.7 146.1 913.1 148.7 913.7 151.5 C914.2 154.4 914.9 156.9 915.2 160.0 C915.6 163.1 915.6 166.7 915.7 170.0 C915.7 173.3 915.7 176.6 915.7 180.0 C915.6 183.3 915.5 186.7 915.3 190.0 C915.2 193.4 915.2 196.9 914.8 200.0 C914.4 203.2 913.2 206.0 912.9 209.0 C912.6 212.0 912.6 215.0 912.8 218.0 C913.0 221.0 913.9 224.0 914.2 227.0 C914.5 229.9 914.5 232.8 914.8 235.9 C915.0 239.0 915.7 242.2 915.7 245.4 C915.8 248.6 914.7 251.9 915.2 255.2 C915.7 258.4 917.9 261.5 918.7 264.9 C919.5 268.2 919.4 271.8 919.8 275.0 C920.2 278.3 920.5 281.2 921.2 284.2 C921.9 287.2 923.5 291.5 924.0 293.0" stroke="#7c7c7c" stroke-width="1.3" fill="none" stroke-linejoin="round"/><path d="M879.0 39.0 C880.3 40.1 884.3 43.4 886.8 45.7 C889.3 48.0 891.8 50.6 894.0 53.0 C896.2 55.4 898.2 57.6 900.1 60.1 C902.0 62.5 903.5 65.2 905.3 67.9 C907.0 70.5 908.9 73.3 910.7 76.1 C912.4 78.9 913.9 81.4 915.7 84.5 C917.6 87.6 919.7 91.4 921.8 94.8 C924.0 98.2 926.9 101.4 928.6 104.7 C930.4 108.1 931.2 111.5 932.3 114.9 C933.5 118.3 934.3 122.0 935.6 125.2 C936.9 128.3 939.1 130.7 940.3 133.7 C941.5 136.7 941.9 140.0 942.8 143.0 C943.6 146.1 944.8 148.9 945.3 151.9 C945.8 154.9 945.4 158.1 945.8 161.1 C946.2 164.1 947.0 166.9 947.6 170.0 C948.2 173.2 949.2 176.6 949.5 179.9 C949.8 183.3 949.0 186.9 949.4 190.1 C949.7 193.3 950.8 196.1 951.6 199.1 C952.4 202.1 953.6 206.5 954.0 208.0" stroke="#7c7c7c" stroke-width="1.3" fill="none" stroke-linejoin="round"/><path d="M850.0 100.0 C850.6 101.7 852.0 106.9 853.4 110.3 C854.7 113.6 856.9 116.7 858.2 119.9 C859.4 123.2 860.0 126.7 860.8 130.0 C861.7 133.4 862.5 136.8 863.4 140.1 C864.2 143.4 865.4 146.6 866.0 149.9 C866.6 153.2 866.7 156.7 867.0 160.0 C867.2 163.3 867.3 166.5 867.3 169.8 C867.4 173.0 866.9 176.3 867.2 179.5 C867.5 182.8 868.9 186.0 869.3 189.2 C869.8 192.4 869.5 195.9 869.8 198.9 C870.0 201.8 870.5 204.2 870.8 206.9 C871.1 209.7 870.8 211.6 871.4 215.1 C872.0 218.7 873.1 224.5 874.4 228.2 C875.8 232.0 878.3 234.6 879.6 237.7 C880.9 240.9 881.4 243.9 882.3 247.1 C883.1 250.3 884.0 253.7 884.5 257.0 C884.9 260.4 884.7 263.9 885.2 267.2 C885.6 270.4 886.3 273.6 887.2 276.7 C888.2 279.8 889.7 281.9 890.7 285.8 C891.7 289.7 892.0 295.7 893.2 300.3 C894.4 304.8 897.2 310.9 898.0 313.0" stroke="#7c7c7c" stroke-width="1.3" fill="none" stroke-linejoin="round"/><path d="M870.0 110.0 C870.3 111.4 871.4 115.5 871.9 118.3 C872.5 121.1 872.9 123.9 873.5 126.6 C874.0 129.4 874.6 132.2 875.1 135.0 C875.6 137.8 876.2 140.5 876.6 143.3 C877.0 146.1 877.2 148.9 877.6 151.7 C878.1 154.5 878.7 156.9 879.2 160.0 C879.6 163.0 880.2 166.6 880.3 170.0 C880.5 173.3 880.0 176.7 880.1 180.0 C880.3 183.2 881.1 186.3 881.4 189.5 C881.6 192.6 881.4 196.0 881.7 198.9 C882.0 201.8 882.7 204.2 882.9 206.9 C883.2 209.6 882.5 211.7 883.2 215.2 C883.9 218.7 885.9 223.9 887.0 228.0 C888.2 232.1 889.2 236.8 889.9 240.0 C890.6 243.2 890.7 244.3 891.3 247.1 C891.8 250.0 892.5 253.8 893.3 257.1 C894.1 260.5 895.2 263.8 895.9 267.0 C896.6 270.2 897.1 273.3 897.5 276.4 C897.8 279.6 897.7 282.1 898.0 286.0 C898.3 289.9 899.1 295.2 899.3 300.0 C899.4 304.8 899.0 312.5 899.0 315.0" stroke="#7c7c7c" stroke-width="1.3" fill="none" stroke-linejoin="round"/><path d="M880.0 120.0 C880.4 121.7 881.5 126.7 882.4 130.0 C883.4 133.3 885.0 136.6 885.7 139.9 C886.3 143.2 885.7 146.7 886.1 150.1 C886.6 153.4 888.0 156.6 888.4 160.0 C888.7 163.3 887.8 166.7 888.2 170.1 C888.6 173.4 890.2 176.7 890.6 179.9 C890.9 183.2 890.2 186.4 890.5 189.5 C890.9 192.7 892.3 196.0 892.6 198.9 C892.9 201.9 892.0 204.4 892.2 207.1 C892.3 209.8 892.6 211.6 893.3 215.1 C894.1 218.6 896.1 223.8 896.7 227.9 C897.3 232.1 896.4 236.9 896.7 240.0 C897.0 243.2 898.1 244.1 898.5 246.9 C898.9 249.8 898.8 253.6 899.0 257.0 C899.1 260.4 898.8 263.9 899.4 267.1 C900.0 270.4 901.8 273.2 902.6 276.4 C903.5 279.5 903.8 282.9 904.5 285.9 C905.2 288.9 906.2 291.5 906.7 294.3 C907.3 297.2 907.8 301.6 908.0 303.0" stroke="#7c7c7c" stroke-width="1.3" fill="none" stroke-linejoin="round"/><path d="M890.0 115.0 C890.4 116.4 891.9 120.4 892.4 123.2 C893.0 126.0 892.9 128.9 893.5 131.6 C894.0 134.4 895.3 136.8 895.7 139.9 C896.1 143.0 895.7 146.7 896.1 150.1 C896.4 153.4 897.3 156.8 898.0 160.0 C898.7 163.3 899.6 166.4 900.1 169.6 C900.7 172.8 901.2 176.0 901.5 179.2 C901.7 182.5 901.3 185.8 901.6 189.0 C901.9 192.3 903.1 195.4 903.3 198.6 C903.5 201.8 902.8 205.1 902.9 208.4 C903.0 211.6 903.8 214.5 903.8 218.0 C903.8 221.5 903.4 225.7 903.0 229.5 C902.6 233.3 901.4 237.5 901.4 241.1 C901.3 244.7 902.4 247.7 902.8 251.0 C903.2 254.3 903.2 258.1 903.9 261.0 C904.6 264.0 906.1 266.0 907.2 268.4 C908.3 270.9 909.3 273.3 910.4 275.8 C911.6 278.4 913.0 281.1 914.1 283.7 C915.2 286.4 915.3 289.2 917.1 291.9 C918.9 294.6 923.7 298.7 925.0 300.0" stroke="#7c7c7c" stroke-width="1.3" fill="none" stroke-linejoin="round"/><path d="M905.0 120.0 C905.3 121.7 906.3 126.7 907.0 130.0 C907.7 133.3 909.0 136.6 909.4 140.0 C909.8 143.3 909.1 146.7 909.3 150.0 C909.4 153.3 910.2 156.7 910.5 160.0 C910.8 163.2 910.9 166.3 911.0 169.5 C911.2 172.7 911.0 175.7 911.2 178.9 C911.3 182.1 912.1 185.5 912.1 188.7 C912.1 192.0 911.4 195.1 911.0 198.4 C910.6 201.6 909.5 204.8 909.7 208.0 C909.9 211.3 911.6 214.6 912.2 217.9 C912.9 221.2 913.0 224.9 913.6 227.7 C914.1 230.5 914.8 233.0 915.7 234.5 C916.7 236.0 917.9 235.7 919.5 236.7 C921.1 237.6 925.1 237.9 925.3 240.1 C925.5 242.4 922.0 247.4 920.5 250.2 C919.0 253.1 916.2 254.7 916.2 257.3 C916.2 259.9 919.2 262.8 920.3 265.9 C921.4 269.0 922.0 272.7 922.8 276.0 C923.6 279.4 924.6 284.3 925.0 286.0" stroke="#7c7c7c" stroke-width="1.3" fill="none" stroke-linejoin="round"/><path d="M860.0 130.0 C860.2 131.7 861.1 136.6 861.5 140.0 C861.8 143.3 861.6 146.7 862.0 150.0 C862.4 153.3 863.4 156.6 863.6 159.9 C863.8 163.3 863.1 166.7 863.4 170.1 C863.7 173.4 865.1 176.6 865.5 180.0 C865.9 183.3 865.8 186.7 865.9 190.0 C866.0 193.4 865.9 196.7 866.2 200.1 C866.6 203.4 867.9 206.6 868.2 210.0 C868.5 213.3 867.9 216.7 868.2 220.1 C868.4 223.4 869.0 226.8 869.6 230.1 C870.2 233.4 871.2 236.7 871.9 240.0 C872.6 243.3 873.0 246.7 873.8 250.1 C874.6 253.4 875.8 256.7 876.9 260.0 C877.9 263.4 879.4 266.6 880.2 269.9 C881.1 273.3 881.2 276.9 882.1 280.3 C883.1 283.6 884.9 285.8 886.2 290.0 C887.5 294.1 889.4 302.5 890.0 305.0" stroke="#7c7c7c" stroke-width="1.3" fill="none" stroke-linejoin="round"/><path d="M872.0 95.0 C872.1 96.7 871.9 101.8 872.5 105.1 C873.1 108.4 874.9 111.6 875.5 114.9 C876.0 118.2 875.3 121.7 875.6 125.0 C875.9 128.4 876.8 131.7 877.0 135.0 C877.3 138.3 876.9 141.7 877.2 145.1 C877.6 148.4 878.9 151.7 879.2 155.0 C879.5 158.3 878.6 161.7 878.9 165.1 C879.2 168.4 880.7 171.6 880.9 175.0 C881.1 178.3 880.0 181.7 880.1 185.0 C880.2 188.4 881.1 191.7 881.5 195.0 C881.8 198.3 882.1 201.6 882.2 205.0 C882.4 208.3 882.2 211.6 882.3 215.0 C882.3 218.3 882.1 221.7 882.4 225.0 C882.7 228.3 883.9 231.6 884.2 234.9 C884.5 238.3 883.9 241.9 884.2 245.0 C884.5 248.0 885.4 250.5 885.9 253.2 C886.3 256.0 886.5 258.8 886.8 261.6 C887.1 264.4 887.4 267.2 887.6 270.0 C887.8 272.7 888.0 275.5 888.1 278.3 C888.3 281.1 888.7 283.8 888.7 286.6 C888.8 289.4 888.1 291.5 888.5 295.1 C888.9 298.6 890.6 305.8 891.0 308.0" stroke="#7c7c7c" stroke-width="1.3" fill="none" stroke-linejoin="round"/><path d="M886.0 100.0 C886.1 101.7 886.6 106.7 886.8 110.0 C887.0 113.4 886.9 116.7 887.3 120.1 C887.7 123.4 888.7 126.7 889.1 130.0 C889.5 133.3 889.4 136.7 889.6 140.0 C889.8 143.4 889.8 146.8 890.2 150.1 C890.6 153.4 891.6 156.7 892.0 160.0 C892.3 163.3 892.1 166.7 892.2 170.0 C892.4 173.4 892.7 176.7 892.9 180.0 C893.1 183.4 892.9 186.7 893.4 190.0 C893.8 193.4 895.1 196.6 895.5 199.9 C895.9 203.3 896.0 206.6 895.9 210.0 C895.9 213.3 895.1 216.7 895.1 220.0 C895.1 223.4 895.6 226.7 895.9 230.0 C896.2 233.3 897.0 236.7 897.1 240.0 C897.2 243.3 896.4 247.0 896.6 250.0 C896.7 253.1 897.7 255.5 897.9 258.3 C898.2 261.1 897.9 263.9 897.9 266.7 C897.9 269.4 897.9 272.2 898.1 275.0 C898.3 277.8 898.8 280.5 899.2 283.3 C899.5 286.1 899.8 288.8 900.0 291.6 C900.1 294.4 899.7 296.6 900.0 300.0 C900.3 303.4 901.7 310.0 902.0 312.0" stroke="#7c7c7c" stroke-width="1.3" fill="none" stroke-linejoin="round"/><path d="M898.0 140.0 C898.0 141.7 897.6 146.7 897.9 150.0 C898.3 153.4 899.7 156.6 900.0 160.0 C900.3 163.3 899.8 166.7 899.9 170.0 C900.0 173.3 900.4 176.7 900.4 180.0 C900.4 183.3 899.7 186.7 899.8 190.0 C900.0 193.4 901.0 196.9 901.2 200.0 C901.5 203.0 901.4 205.5 901.4 208.3 C901.5 211.1 901.4 213.9 901.5 216.7 C901.7 219.4 902.0 222.2 902.2 225.0 C902.4 227.8 902.3 230.6 902.6 233.5 C902.9 236.3 903.5 239.0 904.0 241.8 C904.5 244.6 904.7 247.6 905.6 250.1 C906.6 252.7 908.8 254.6 909.7 257.2 C910.7 259.8 910.0 263.1 911.3 265.6 C912.7 268.0 916.2 269.3 917.9 272.0 C919.7 274.8 921.5 278.1 921.8 282.0 C922.2 285.8 920.3 292.8 920.0 295.0" stroke="#7c7c7c" stroke-width="1.3" fill="none" stroke-linejoin="round"/><path d="M864.0 120.0 C864.3 121.7 865.8 126.6 866.1 129.9 C866.4 133.3 865.4 136.8 865.9 140.1 C866.3 143.4 868.1 146.6 868.6 149.9 C869.1 153.2 868.7 156.7 868.9 160.1 C869.1 163.4 869.6 166.7 870.1 170.1 C870.5 173.4 871.0 176.7 871.6 180.1 C872.2 183.4 873.1 186.6 873.7 190.0 C874.2 193.3 874.6 196.6 874.9 200.0 C875.3 203.3 875.3 207.0 875.6 210.1 C875.9 213.1 876.0 215.7 876.5 218.5 C877.0 221.2 877.8 224.0 878.4 226.7 C878.9 229.5 879.3 231.7 879.9 235.0 C880.6 238.3 881.5 242.6 882.2 246.5 C882.9 250.3 883.6 254.2 884.2 258.0 C884.7 261.7 885.0 265.4 885.6 269.1 C886.3 272.7 887.3 276.5 888.1 280.0 C888.9 283.5 889.6 286.7 890.4 290.0 C891.3 293.4 892.6 298.3 893.0 300.0" stroke="#7c7c7c" stroke-width="1.3" fill="none" stroke-linejoin="round"/><path d="M838.0 338.0 C839.5 337.3 844.1 335.4 846.9 333.7 C849.8 332.1 852.5 329.7 855.1 328.1 C857.6 326.5 859.6 325.3 862.0 324.0 C864.3 322.6 866.2 321.7 869.0 320.0 C871.8 318.4 875.5 315.9 878.8 313.9 C882.0 311.8 885.3 310.1 888.5 307.7 C891.7 305.4 895.0 301.6 898.0 299.9 C901.0 298.1 903.7 298.0 906.5 297.2 C909.4 296.4 912.4 295.8 915.3 295.1 C918.2 294.4 922.5 293.4 924.0 293.0" stroke="#7c7c7c" stroke-width="1.3" fill="none" stroke-linejoin="round"/><path d="M840.0 218.0 C841.5 217.4 846.1 215.2 849.3 214.2 C852.4 213.2 855.8 213.1 859.0 212.2 C862.2 211.3 865.2 209.6 868.5 208.8 C871.7 208.0 875.1 207.9 878.3 207.4 C881.6 206.9 884.8 206.5 888.1 205.9 C891.4 205.2 894.6 204.1 898.0 203.6 C901.3 203.1 906.3 203.1 908.0 203.0" stroke="#7c7c7c" stroke-width="1.3" fill="none" stroke-linejoin="round"/><path d="M845.0 60.0 C845.6 61.7 847.1 66.7 848.4 70.0 C849.6 73.4 851.4 76.5 852.5 79.8 C853.6 83.2 854.0 86.7 854.8 90.1 C855.5 93.5 856.2 96.9 857.2 100.2 C858.2 103.5 860.0 106.5 860.8 109.8 C861.6 113.1 861.5 116.6 862.1 120.0 C862.7 123.3 863.6 126.6 864.3 129.9 C864.9 133.3 865.7 138.3 866.0 140.0" stroke="#7c7c7c" stroke-width="1.3" fill="none" stroke-linejoin="round"/><path d="M924.0 44.0 C921.2 44.5 913.8 45.5 907.0 47.0 C900.2 48.5 890.0 50.8 883.0 53.0 C876.0 55.2 870.8 58.5 865.0 60.0 C859.2 61.5 853.8 62.4 848.0 62.0 C842.2 61.6 835.0 58.7 830.0 57.5 C825.0 56.3 823.0 55.0 818.0 55.0 C813.0 55.0 806.8 56.2 800.0 57.5 C793.2 58.8 787.3 60.6 777.0 63.0 C766.7 65.4 750.8 67.5 738.0 72.0 C725.2 76.5 708.8 85.8 700.0 90.0 C691.2 94.2 694.7 90.3 685.0 97.0 C675.3 103.7 656.2 115.5 642.0 130.0 C627.8 144.5 613.7 165.7 600.0 184.0 C586.3 202.3 575.8 219.5 560.0 240.0 C544.2 260.5 521.2 288.7 505.0 307.0 C488.8 325.3 475.5 337.3 463.0 350.0 C450.5 362.7 438.8 374.0 430.0 383.0 C421.2 392.0 417.5 399.3 410.0 404.0 C402.5 408.7 395.2 408.7 385.0 411.0 C374.8 413.3 359.8 415.8 349.0 418.0 C338.2 420.2 327.2 422.3 320.0 424.0 C312.8 425.7 310.7 426.2 306.0 428.0 C301.3 429.8 295.7 432.3 292.0 435.0 C288.3 437.7 286.5 440.8 284.0 444.0 C281.5 447.2 279.3 450.7 277.0 454.0 C274.7 457.3 272.0 460.7 270.0 464.0 C268.0 467.3 266.1 470.6 265.0 474.0 C263.9 477.4 263.4 481.0 263.6 484.5 C263.8 488.0 265.1 491.6 266.0 495.0 C266.9 498.4 268.0 501.7 268.7 505.0 C269.4 508.3 270.0 511.7 270.0 515.0 C270.0 518.3 268.7 522.0 268.7 525.0 C268.7 528.0 268.6 532.2 270.0 533.0 C271.4 533.8 273.5 531.6 277.0 530.0 C280.5 528.4 287.0 525.2 291.0 523.5 C295.0 521.8 297.1 521.4 301.0 520.0 C304.9 518.6 310.5 516.7 314.5 515.0 C318.5 513.3 320.8 512.0 325.0 510.0 C329.2 508.0 335.0 505.0 340.0 503.0 C345.0 501.0 350.2 500.0 355.0 498.0 C359.8 496.0 363.8 493.8 369.0 491.0 C374.2 488.2 379.2 483.5 386.0 481.0 C392.8 478.5 402.0 478.5 410.0 476.0 C418.0 473.5 424.0 470.7 434.0 466.0 C444.0 461.3 457.3 455.7 470.0 448.0 C482.7 440.3 495.8 429.3 510.0 420.0 C524.2 410.7 539.2 402.0 555.0 392.0 C570.8 382.0 588.3 370.7 605.0 360.0 C621.7 349.3 638.3 338.8 655.0 328.0 C671.7 317.2 688.3 307.7 705.0 295.0 C721.7 282.3 739.2 265.3 755.0 252.0 C770.8 238.7 784.2 223.7 800.0 215.0 C815.8 206.3 835.0 204.2 850.0 200.0 C865.0 195.8 883.3 191.7 890.0 190.0" stroke="#000" stroke-width="4.2" stroke-dasharray="4 4.1" fill="none"/><path d="M780.0 64.0 C784.2 62.8 798.7 57.3 805.0 57.0 C811.3 56.7 812.8 60.5 818.0 62.0 C823.2 63.5 829.3 65.7 836.0 66.0 C842.7 66.3 850.7 63.8 858.0 64.0 C865.3 64.2 873.0 66.2 880.0 67.0 C887.0 67.8 893.3 69.7 900.0 69.0 C906.7 68.3 913.0 65.3 920.0 63.0 C927.0 60.7 935.7 55.7 942.0 55.0 C948.3 54.3 952.5 58.7 958.0 59.0 C963.5 59.3 969.7 56.5 975.0 57.0 C980.3 57.5 986.2 59.5 990.0 62.0 C993.8 64.5 997.8 69.5 998.0 72.0 C998.2 74.5 994.0 74.2 991.0 77.0 C988.0 79.8 983.5 85.0 980.0 89.0 C976.5 93.0 972.5 96.3 970.0 101.0 C967.5 105.7 965.5 111.8 965.0 117.0 C964.5 122.2 966.5 128.0 967.0 132.0 C967.5 136.0 968.5 137.3 968.0 141.0 C967.5 144.7 966.0 149.8 964.0 154.0 C962.0 158.2 958.5 162.2 956.0 166.0 C953.5 169.8 952.5 173.0 949.0 177.0 C945.5 181.0 939.8 186.3 935.0 190.0 C930.2 193.7 922.5 197.5 920.0 199.0" stroke="#000" stroke-width="4.2" stroke-dasharray="4 4.1" fill="none"/><path d="M985.0 66.0 C982.5 66.7 974.2 68.7 970.0 70.0 C965.8 71.3 963.7 72.2 960.0 74.0 C956.3 75.8 951.7 79.2 948.0 81.0 C944.3 82.8 942.0 83.5 938.0 85.0 C934.0 86.5 928.0 88.2 924.0 90.0 C920.0 91.8 917.2 94.0 914.0 96.0 C910.8 98.0 908.2 99.7 905.0 102.0 C901.8 104.3 899.2 107.3 895.0 110.0 C890.8 112.7 885.8 115.0 880.0 118.0 C874.2 121.0 867.5 124.3 860.0 128.0 C852.5 131.7 845.0 134.7 835.0 140.0 C825.0 145.3 805.8 156.7 800.0 160.0" stroke="#000" stroke-width="4.2" stroke-dasharray="4 4.1" fill="none"/><path d="M385.0 412.0 C389.2 411.3 401.8 410.7 410.0 408.0 C418.2 405.3 426.0 400.3 434.0 396.0 C442.0 391.7 449.3 389.7 458.0 382.0 C466.7 374.3 475.7 361.7 486.0 350.0 C496.3 338.3 507.8 324.5 520.0 312.0 C532.2 299.5 544.7 288.7 559.0 275.0 C573.3 261.3 590.2 244.2 606.0 230.0 C621.8 215.8 637.5 202.0 654.0 190.0 C670.5 178.0 692.8 166.3 705.0 158.0 C717.2 149.7 717.8 145.5 727.0 140.0 C736.2 134.5 750.5 129.0 760.0 125.0 C769.5 121.0 776.0 119.3 784.0 116.0 C792.0 112.7 799.8 107.3 808.0 105.0 C816.2 102.7 824.8 102.8 833.0 102.0 C841.2 101.2 849.0 100.3 857.0 100.0 C865.0 99.7 873.8 99.7 881.0 100.0 C888.2 100.3 893.5 101.3 900.0 102.0 C906.5 102.7 913.0 103.8 920.0 104.0 C927.0 104.2 936.2 103.7 942.0 103.0 C947.8 102.3 952.8 100.5 955.0 100.0" stroke="#000" stroke-width="4.2" stroke-dasharray="4 4.1" fill="none"/><path d="M272.0 464.0 C272.7 463.2 273.2 460.8 276.0 459.0 C278.8 457.2 282.3 454.0 288.5 453.0 C294.7 452.0 304.9 452.0 313.0 453.0 C321.1 454.0 329.0 458.7 337.0 459.0 C345.0 459.3 353.0 457.0 361.0 455.0 C369.0 453.0 376.8 449.5 385.0 447.0 C393.2 444.5 401.8 442.8 410.0 440.0 C418.2 437.2 424.3 436.7 434.0 430.0 C443.7 423.3 454.2 411.7 468.0 400.0 C481.8 388.3 501.7 371.7 517.0 360.0 C532.3 348.3 545.3 338.5 560.0 330.0 C574.7 321.5 589.2 320.3 605.0 309.0 C620.8 297.7 638.3 278.0 655.0 262.0 C671.7 246.0 688.3 227.0 705.0 213.0 C721.7 199.0 739.2 188.5 755.0 178.0 C770.8 167.5 784.2 158.8 800.0 150.0 C815.8 141.2 834.0 132.7 850.0 125.0 C866.0 117.3 888.3 107.5 896.0 104.0" stroke="#000" stroke-width="4.2" stroke-dasharray="4 4.1" fill="none"/><path d="M285.6 484.5 C286.2 483.4 287.9 479.9 289.0 477.7 C290.1 475.4 291.0 473.3 292.4 471.0 C293.8 468.7 295.2 465.7 297.5 464.0 C299.8 462.3 302.9 461.4 306.0 460.7 C309.1 460.0 312.9 460.0 316.0 460.0 C319.1 460.0 321.5 460.7 324.7 460.7 C327.9 460.7 331.6 460.0 335.0 460.0 C338.4 460.0 341.9 460.9 345.0 460.7 C348.1 460.5 349.5 460.1 353.5 459.0 C357.5 457.9 364.8 455.7 369.0 454.0 C373.2 452.3 375.7 450.7 379.0 449.0 C382.3 447.3 382.2 446.8 389.0 444.0 C395.8 441.2 402.7 439.5 420.0 432.0 C437.3 424.5 471.3 412.3 493.0 399.0 C514.7 385.7 531.3 365.5 550.0 352.0 C568.7 338.5 587.5 331.7 605.0 318.0 C622.5 304.3 638.3 285.5 655.0 270.0 C671.7 254.5 688.3 238.0 705.0 225.0 C721.7 212.0 739.2 202.0 755.0 192.0 C770.8 182.0 784.2 173.7 800.0 165.0 C815.8 156.3 833.3 147.8 850.0 140.0 C866.7 132.2 891.7 121.7 900.0 118.0" stroke="#000" stroke-width="4.2" stroke-dasharray="4 4.1" fill="none"/><path d="M293.0 537.0 C295.2 536.5 301.8 535.1 306.0 533.7 C310.2 532.3 314.3 530.1 318.0 528.6 C321.7 527.1 324.3 526.4 328.0 525.0 C331.7 523.6 336.0 521.7 340.0 520.0 C344.0 518.3 348.3 516.7 352.0 515.0 C355.7 513.3 358.7 511.7 362.0 510.0 C365.3 508.3 368.7 506.7 372.0 505.0 C375.3 503.3 379.0 501.5 382.0 500.0 C385.0 498.5 385.3 498.0 390.0 496.0 C394.7 494.0 402.7 491.3 410.0 488.0 C417.3 484.7 426.0 480.3 434.0 476.0 C442.0 471.7 450.3 466.0 458.0 462.0 C465.7 458.0 466.3 464.0 480.0 452.0 C493.7 440.0 519.2 411.3 540.0 390.0 C560.8 368.7 585.8 342.3 605.0 324.0 C624.2 305.7 638.3 294.7 655.0 280.0 C671.7 265.3 688.3 247.7 705.0 236.0 C721.7 224.3 739.2 218.3 755.0 210.0 C770.8 201.7 784.2 193.5 800.0 186.0 C815.8 178.5 833.3 171.0 850.0 165.0 C866.7 159.0 887.8 152.5 900.0 150.0 C912.2 147.5 919.2 150.0 923.0 150.0" stroke="#000" stroke-width="4.2" stroke-dasharray="4 4.1" fill="none"/><path d="M215.0 598.0 C220.8 595.5 235.8 588.5 250.0 583.0 C264.2 577.5 283.3 571.7 300.0 565.0 C316.7 558.3 333.3 551.3 350.0 543.0 C366.7 534.7 383.3 524.7 400.0 515.0 C416.7 505.3 433.3 495.0 450.0 485.0 C466.7 475.0 485.0 464.5 500.0 455.0 C515.0 445.5 533.3 432.5 540.0 428.0" stroke="#000" stroke-width="4.2" stroke-dasharray="4 4.1" fill="none"/><path d="M327.0 349.0 C326.5 348.5 325.0 346.0 324.0 346.0 C323.0 346.0 321.3 347.3 321.0 349.0 C320.7 350.7 322.0 352.2 322.0 356.0 C322.0 359.8 320.8 364.7 321.0 372.0 C321.2 379.3 322.2 391.2 323.0 400.0 C323.8 408.8 325.2 418.3 326.0 425.0 C326.8 431.7 327.3 434.8 328.0 440.0 C328.7 445.2 329.2 450.8 330.0 456.0 C330.8 461.2 332.2 466.2 333.0 471.0 C333.8 475.8 334.2 481.5 335.0 485.0 C335.8 488.5 335.5 490.8 338.0 492.0 C340.5 493.2 345.5 492.3 350.0 492.0 C354.5 491.7 359.2 491.3 365.0 490.0 C370.8 488.7 375.8 487.3 385.0 484.0 C394.2 480.7 405.8 476.0 420.0 470.0 C434.2 464.0 453.3 458.0 470.0 448.0 C486.7 438.0 505.0 422.7 520.0 410.0 C535.0 397.3 545.8 384.0 560.0 372.0 C574.2 360.0 589.2 349.5 605.0 338.0 C620.8 326.5 638.3 314.7 655.0 303.0 C671.7 291.3 688.3 280.2 705.0 268.0 C721.7 255.8 739.2 242.2 755.0 230.0 C770.8 217.8 784.2 204.2 800.0 195.0 C815.8 185.8 832.5 179.5 850.0 175.0 C867.5 170.5 895.8 169.2 905.0 168.0" stroke="#000" stroke-width="4.2" stroke-dasharray="12 4" fill="none"/><path d="M322.0 352.0 C322.7 355.3 324.2 364.7 326.0 372.0 C327.8 379.3 330.3 388.0 333.0 396.0 C335.7 404.0 339.3 414.0 342.0 420.0 C344.7 426.0 347.0 428.7 349.0 432.0 C351.0 435.3 352.3 436.7 354.0 440.0 C355.7 443.3 357.3 447.2 359.0 452.0 C360.7 456.8 362.5 463.7 364.0 469.0 C365.5 474.3 366.7 480.0 368.0 484.0 C369.3 488.0 370.3 490.3 372.0 493.0 C373.7 495.7 374.2 497.5 378.0 500.0 C381.8 502.5 387.2 508.0 395.0 508.0 C402.8 508.0 412.5 506.7 425.0 500.0 C437.5 493.3 454.2 480.5 470.0 468.0 C485.8 455.5 505.0 438.3 520.0 425.0 C535.0 411.7 545.8 400.3 560.0 388.0 C574.2 375.7 589.2 362.7 605.0 351.0 C620.8 339.3 638.3 329.3 655.0 318.0 C671.7 306.7 688.3 296.0 705.0 283.0 C721.7 270.0 739.2 253.7 755.0 240.0 C770.8 226.3 784.2 210.2 800.0 201.0 C815.8 191.8 830.0 192.2 850.0 185.0 C870.0 177.8 908.3 162.5 920.0 158.0" stroke="#000" stroke-width="4.2" stroke-dasharray="12 4" fill="none"/><path d="M304.0 496.0 C306.3 495.8 314.5 494.4 318.0 494.7 C321.5 495.0 320.5 496.3 325.0 498.0 C329.5 499.7 341.7 503.8 345.0 505.0" stroke="#000" stroke-width="4.2" stroke-dasharray="12 4" fill="none"/><path d="M230.0 575.0 C241.7 570.8 278.3 561.8 300.0 550.0 C321.7 538.2 340.0 519.2 360.0 504.0 C380.0 488.8 400.0 474.0 420.0 459.0 C440.0 444.0 463.3 427.3 480.0 414.0 C496.7 400.7 506.7 390.7 520.0 379.0 C533.3 367.3 545.8 357.7 560.0 344.0 C574.2 330.3 589.2 313.5 605.0 297.0 C620.8 280.5 638.3 261.8 655.0 245.0 C671.7 228.2 688.3 211.0 705.0 196.0 C721.7 181.0 739.2 167.5 755.0 155.0 C770.8 142.5 783.0 130.8 800.0 121.0 C817.0 111.2 843.5 101.7 857.0 96.0 C870.5 90.3 873.0 89.3 881.0 87.0 C889.0 84.7 898.8 82.7 905.0 82.0 C911.2 81.3 915.8 82.8 918.0 83.0" stroke="#000" stroke-width="4.2" stroke-dasharray="12 4" fill="none"/><path d="M850.0 90.0 C858.3 87.0 885.0 76.5 900.0 72.0 C915.0 67.5 928.3 65.0 940.0 63.0 C951.7 61.0 961.7 60.0 970.0 60.0 C978.3 60.0 985.0 59.8 990.0 63.0 C995.0 66.2 998.8 74.2 1000.0 79.0 C1001.2 83.8 998.8 87.7 997.0 92.0 C995.2 96.3 991.8 100.3 989.0 105.0 C986.2 109.7 983.3 114.3 980.0 120.0 C976.7 125.7 972.8 132.8 969.0 139.0 C965.2 145.2 961.2 151.0 957.0 157.0 C952.8 163.0 948.5 169.5 944.0 175.0 C939.5 180.5 934.3 185.7 930.0 190.0 C925.7 194.3 922.7 197.3 918.0 201.0 C913.3 204.7 906.8 208.7 902.0 212.0 C897.2 215.3 894.8 217.0 889.0 221.0 C883.2 225.0 875.0 230.2 867.0 236.0 C859.0 241.8 850.0 248.0 841.0 256.0 C832.0 264.0 823.2 273.7 813.0 284.0 C802.8 294.3 789.7 308.3 780.0 318.0 C770.3 327.7 764.3 335.3 755.0 342.0 C745.7 348.7 734.3 352.5 724.0 358.0 C713.7 363.5 703.3 369.5 693.0 375.0 C682.7 380.5 674.0 384.8 662.0 391.0 C650.0 397.2 634.7 405.8 621.0 412.0 C607.3 418.2 593.5 422.3 580.0 428.0 C566.5 433.7 556.7 438.7 540.0 446.0 C523.3 453.3 500.0 462.2 480.0 472.0 C460.0 481.8 440.0 494.0 420.0 505.0 C400.0 516.0 378.3 528.8 360.0 538.0 C341.7 547.2 326.7 553.3 310.0 560.0 C293.3 566.7 274.7 572.7 260.0 578.0 C245.3 583.3 228.3 589.7 222.0 592.0" stroke="#000" stroke-width="4.2" stroke-dasharray="12 4" fill="none"/><path d="M210.0 605.0 C216.7 603.5 235.0 600.5 250.0 596.0 C265.0 591.5 283.3 585.8 300.0 578.0 C316.7 570.2 333.3 558.2 350.0 549.0 C366.7 539.8 381.7 532.3 400.0 523.0 C418.3 513.7 440.0 502.8 460.0 493.0 C480.0 483.2 503.3 471.2 520.0 464.0 C536.7 456.8 546.7 454.3 560.0 450.0 C573.3 445.7 589.8 441.2 600.0 438.0 C610.2 434.8 610.7 434.5 621.0 431.0 C631.3 427.5 648.8 422.8 662.0 417.0 C675.2 411.2 693.7 399.5 700.0 396.0" stroke="#000" stroke-width="4.2" stroke-dasharray="12 4" fill="none"/><path d="M235.0 568.0 C245.8 564.2 279.2 556.3 300.0 545.0 C320.8 533.7 340.0 515.0 360.0 500.0 C380.0 485.0 400.0 470.0 420.0 455.0 C440.0 440.0 463.3 423.3 480.0 410.0 C496.7 396.7 506.7 386.7 520.0 375.0 C533.3 363.3 545.8 354.2 560.0 340.0 C574.2 325.8 589.2 307.5 605.0 290.0 C620.8 272.5 638.3 253.7 655.0 235.0 C671.7 216.3 688.3 193.8 705.0 178.0 C721.7 162.2 739.2 150.7 755.0 140.0 C770.8 129.3 787.0 121.7 800.0 114.0 C813.0 106.3 823.5 99.0 833.0 94.0 C842.5 89.0 849.0 86.8 857.0 84.0 C865.0 81.2 873.0 79.0 881.0 77.0 C889.0 75.0 896.8 73.8 905.0 72.0 C913.2 70.2 920.8 67.7 930.0 66.0 C939.2 64.3 955.0 62.7 960.0 62.0" stroke="#000" stroke-width="4.2" stroke-dasharray="12.2 4.2 3.9 4.2" fill="none"/><path d="M225.0 585.0 C235.8 581.7 267.5 573.3 290.0 565.0 C312.5 556.7 338.3 545.0 360.0 535.0 C381.7 525.0 400.0 518.3 420.0 505.0 C440.0 491.7 460.0 474.2 480.0 455.0 C500.0 435.8 519.2 410.8 540.0 390.0 C560.8 369.2 585.8 346.7 605.0 330.0 C624.2 313.3 637.7 305.0 655.0 290.0 C672.3 275.0 691.5 255.0 709.0 240.0 C726.5 225.0 744.8 212.5 760.0 200.0 C775.2 187.5 786.7 173.7 800.0 165.0 C813.3 156.3 827.0 154.7 840.0 148.0 C853.0 141.3 868.7 131.3 878.0 125.0 C887.3 118.7 891.2 113.2 896.0 110.0 C900.8 106.8 905.2 106.7 907.0 106.0" stroke="#000" stroke-width="4.2" stroke-dasharray="12.2 4.2 3.9 4.2" fill="none"/><path d="M991.0 70.0 C990.0 72.3 987.5 79.0 985.0 84.0 C982.5 89.0 979.3 95.2 976.0 100.0 C972.7 104.8 969.0 108.5 965.0 113.0 C961.0 117.5 956.5 122.5 952.0 127.0 C947.5 131.5 942.5 135.8 938.0 140.0 C933.5 144.2 929.7 148.2 925.0 152.0 C920.3 155.8 915.3 159.2 910.0 163.0 C904.7 166.8 897.7 170.5 893.0 175.0 C888.3 179.5 888.7 183.8 882.0 190.0 C875.3 196.2 864.0 204.7 853.0 212.0 C842.0 219.3 828.2 226.7 816.0 234.0 C803.8 241.3 792.7 248.3 780.0 256.0 C767.3 263.7 752.5 271.7 740.0 280.0 C727.5 288.3 719.2 296.3 705.0 306.0 C690.8 315.7 671.7 327.7 655.0 338.0 C638.3 348.3 624.2 356.0 605.0 368.0 C585.8 380.0 560.8 394.7 540.0 410.0 C519.2 425.3 500.0 444.2 480.0 460.0 C460.0 475.8 440.0 492.5 420.0 505.0 C400.0 517.5 381.7 525.8 360.0 535.0 C338.3 544.2 310.0 553.3 290.0 560.0 C270.0 566.7 248.3 572.5 240.0 575.0" stroke="#000" stroke-width="4.2" stroke-dasharray="12.2 4.2 3.9 4.2" fill="none"/><path d="M972.0 128.0 C970.0 130.8 963.7 140.2 960.0 145.0 C956.3 149.8 953.7 153.0 950.0 157.0 C946.3 161.0 941.8 165.2 938.0 169.0 C934.2 172.8 930.0 176.0 927.0 180.0 C924.0 184.0 924.8 188.3 920.0 193.0 C915.2 197.7 906.2 202.7 898.0 208.0 C889.8 213.3 879.8 219.2 871.0 225.0 C862.2 230.8 854.7 237.2 845.0 243.0 C835.3 248.8 821.0 255.8 813.0 260.0 C805.0 264.2 802.8 264.0 797.0 268.0 C791.2 272.0 786.7 277.5 778.0 284.0 C769.3 290.5 757.3 298.8 745.0 307.0 C732.7 315.2 717.8 324.5 704.0 333.0 C690.2 341.5 675.8 350.3 662.0 358.0 C648.2 365.7 634.7 371.8 621.0 379.0 C607.3 386.2 593.5 393.3 580.0 401.0 C566.5 408.7 553.3 416.8 540.0 425.0 C526.7 433.2 515.0 441.2 500.0 450.0 C485.0 458.8 466.7 468.3 450.0 478.0 C433.3 487.7 416.7 498.5 400.0 508.0 C383.3 517.5 366.7 527.0 350.0 535.0 C333.3 543.0 316.7 549.3 300.0 556.0 C283.3 562.7 262.5 570.2 250.0 575.0 C237.5 579.8 229.2 583.3 225.0 585.0" stroke="#000" stroke-width="4.2" stroke-dasharray="12.2 4.2 3.9 4.2" fill="none"/><path d="M208.0 606.0 C213.7 605.3 229.3 605.3 242.0 602.0 C254.7 598.7 270.0 592.7 284.0 586.0 C298.0 579.3 312.0 569.7 326.0 562.0 C340.0 554.3 352.3 548.3 368.0 540.0 C383.7 531.7 401.3 522.3 420.0 512.0 C438.7 501.7 460.0 489.2 480.0 478.0 C500.0 466.8 523.3 454.0 540.0 445.0 C556.7 436.0 566.5 430.2 580.0 424.0 C593.5 417.8 607.3 414.2 621.0 408.0 C634.7 401.8 650.0 393.2 662.0 387.0 C674.0 380.8 682.7 376.5 693.0 371.0 C703.3 365.5 713.7 359.5 724.0 354.0 C734.3 348.5 745.7 344.5 755.0 338.0 C764.3 331.5 772.5 320.5 780.0 315.0 C787.5 309.5 793.2 308.3 800.0 305.0 C806.8 301.7 812.7 300.8 821.0 295.0 C829.3 289.2 840.2 279.2 850.0 270.0 C859.8 260.8 870.8 247.5 880.0 240.0 C889.2 232.5 900.8 227.5 905.0 225.0" stroke="#000" stroke-width="4.2" stroke-dasharray="12.2 4.2 3.9 4.2" fill="none"/><path d="M560.0 360.0 C570.0 350.0 596.7 320.0 620.0 300.0 C643.3 280.0 676.7 258.3 700.0 240.0 C723.3 221.7 743.3 201.7 760.0 190.0 C776.7 178.3 783.3 174.3 800.0 170.0 C816.7 165.7 847.0 166.2 860.0 164.0 C873.0 161.8 872.0 159.3 878.0 157.0 C884.0 154.7 890.8 151.8 896.0 150.0 C901.2 148.2 904.3 146.0 909.0 146.0 C913.7 146.0 921.5 149.3 924.0 150.0" stroke="#000" stroke-width="4.2" stroke-dasharray="12.2 4.2 3.9 4.2" fill="none"/><path d="M215.0 585.0 C225.8 582.5 257.5 576.7 280.0 570.0 C302.5 563.3 326.7 554.7 350.0 545.0 C373.3 535.3 400.2 522.0 420.0 512.0 C439.8 502.0 452.3 493.3 469.0 485.0 C485.7 476.7 504.8 468.2 520.0 462.0 C535.2 455.8 550.0 451.7 560.0 448.0 C570.0 444.3 569.8 443.0 580.0 440.0 C590.2 437.0 607.3 433.7 621.0 430.0 C634.7 426.3 648.8 423.8 662.0 418.0 C675.2 412.2 687.7 402.0 700.0 395.0 C712.3 388.0 723.8 384.5 736.0 376.0 C748.2 367.5 760.8 354.5 773.0 344.0 C785.2 333.5 799.0 323.5 809.0 313.0 C819.0 302.5 824.8 289.2 833.0 281.0 C841.2 272.8 848.5 269.2 858.0 264.0 C867.5 258.8 880.5 254.0 890.0 250.0 C899.5 246.0 910.8 241.7 915.0 240.0" stroke="#000" stroke-width="1.6" stroke-dasharray="5 2.1" fill="none"/><path d="M230.0 582.0 C241.7 579.3 275.0 574.7 300.0 566.0 C325.0 557.3 353.3 542.7 380.0 530.0 C406.7 517.3 433.3 503.0 460.0 490.0 C486.7 477.0 520.0 460.9 540.0 452.0 C560.0 443.1 566.5 441.2 580.0 436.5 C593.5 431.8 607.3 428.8 621.0 424.0 C634.7 419.2 648.2 414.2 662.0 408.0 C675.8 401.8 691.9 392.5 704.0 387.0 C716.1 381.5 726.0 379.8 734.5 375.0 C743.0 370.2 747.4 364.2 755.0 358.0 C762.6 351.8 773.0 344.3 780.0 338.0 C787.0 331.7 790.2 326.7 797.0 320.0 C803.8 313.3 812.8 306.5 821.0 298.0 C829.2 289.5 837.0 277.0 846.0 269.0 C855.0 261.0 866.8 253.7 875.0 250.0 C883.2 246.3 890.5 249.0 895.0 247.0 C899.5 245.0 900.8 241.7 902.0 238.0 C903.2 234.3 900.8 229.0 902.0 225.0 C903.2 221.0 907.8 215.8 909.0 214.0" stroke="#000" stroke-width="1.6" stroke-dasharray="5 2.1" fill="none"/><path d="M240.0 575.0 C253.3 570.8 293.3 560.0 320.0 550.0 C346.7 540.0 373.3 528.3 400.0 515.0 C426.7 501.7 458.3 485.8 480.0 470.0 C501.7 454.2 516.7 432.0 530.0 420.0 C543.3 408.0 551.7 403.5 560.0 398.0 C568.3 392.5 571.5 391.5 580.0 387.0 C588.5 382.5 600.7 375.8 611.0 371.0 C621.3 366.2 633.5 364.2 642.0 358.0 C650.5 351.8 657.5 339.5 662.0 334.0 C666.5 328.5 664.2 330.7 669.0 325.0 C673.8 319.3 682.5 307.5 691.0 300.0 C699.5 292.5 708.5 286.7 720.0 280.0 C731.5 273.3 746.7 266.5 760.0 260.0 C773.3 253.5 787.2 246.0 800.0 241.0 C812.8 236.0 825.8 233.3 837.0 230.0 C848.2 226.7 858.3 223.2 867.0 221.0 C875.7 218.8 883.2 218.5 889.0 217.0 C894.8 215.5 897.7 214.0 902.0 212.0 C906.3 210.0 912.8 206.2 915.0 205.0" stroke="#000" stroke-width="1.6" stroke-dasharray="5 2.1" fill="none"/><path d="M322.0 352.0 C322.3 356.7 323.0 370.3 324.0 380.0 C325.0 389.7 326.3 400.0 328.0 410.0 C329.7 420.0 331.8 430.8 334.0 440.0 C336.2 449.2 338.5 457.5 341.0 465.0 C343.5 472.5 346.5 480.0 349.0 485.0 C351.5 490.0 354.8 493.3 356.0 495.0" stroke="#000" stroke-width="4.2" stroke-dasharray="12 4" fill="none"/><path d="M330.0 505.0 C328.0 506.2 321.7 509.5 318.0 512.0 C314.3 514.5 311.0 517.3 308.0 520.0 C305.0 522.7 301.3 526.7 300.0 528.0" stroke="#000" stroke-width="4.2" stroke-dasharray="4 4.1" fill="none"/><path d="M310.1 497.1 L305.0 493.1 L306.1 494.2 L309.4 493.4 L305.7 495.7 L310.9 495.0 L303.4 497.0" stroke="#000" stroke-width="3.6" stroke-dasharray="5 1.5" fill="none" stroke-linejoin="round"/><path d="M307.1 518.5 L312.1 512.6 L310.0 514.5 L311.2 517.9 L306.8 510.3 L312.7 514.3 L312.1 510.0" stroke="#000" stroke-width="3.6" stroke-dasharray="5 1.5" fill="none" stroke-linejoin="round"/><path d="M245.6 566.6 L236.6 559.7 L244.4 564.9 L242.7 561.5 L242.1 563.9 L241.8 560.3 L240.3 562.1" stroke="#000" stroke-width="3.6" stroke-dasharray="5 1.5" fill="none" stroke-linejoin="round"/><path d="M240.9 581.4 L242.4 582.0 L245.5 576.7 L238.2 584.4 L241.1 578.3 L249.9 580.7 L248.0 580.8" stroke="#000" stroke-width="3.6" stroke-dasharray="5 1.5" fill="none" stroke-linejoin="round"/><path d="M215.3 602.8 L217.5 603.2 L212.9 605.2 L224.9 608.4 L222.7 603.8 L219.5 604.2 L214.4 602.8" stroke="#000" stroke-width="3.6" stroke-dasharray="5 1.5" fill="none" stroke-linejoin="round"/><path d="M237.2 594.4 L239.0 596.4 L238.4 596.2 L231.3 591.7 L240.4 593.5 L240.0 588.1 L235.7 589.5" stroke="#000" stroke-width="3.6" stroke-dasharray="5 1.5" fill="none" stroke-linejoin="round"/><path d="M261.5 598.6 L257.8 594.1 L252.0 597.3 L257.6 598.1 L256.5 598.2 L255.3 598.4 L260.8 595.3" stroke="#000" stroke-width="3.6" stroke-dasharray="5 1.5" fill="none" stroke-linejoin="round"/><path d="M210.2 600.9 L213.5 600.4 L212.4 602.2 L207.6 603.0 L207.4 602.6 L207.7 600.5 L211.2 605.0" stroke="#000" stroke-width="3.6" stroke-dasharray="5 1.5" fill="none" stroke-linejoin="round"/><path d="M902.1 115.3 L900.3 110.7 L899.5 102.5 L916.0 101.8 L909.6 106.3 L906.2 106.9 L901.5 112.9" stroke="#000" stroke-width="3.6" stroke-dasharray="5 1.5" fill="none" stroke-linejoin="round"/><path d="M956.6 100.0 L952.7 107.9 L951.1 102.0 L961.8 95.3 L957.7 103.9 L951.5 100.1 L959.4 101.2" stroke="#000" stroke-width="3.6" stroke-dasharray="5 1.5" fill="none" stroke-linejoin="round"/><path d="M966.5 129.3 L966.5 127.1 L968.2 133.2 L967.1 126.6 L966.1 128.3 L964.2 134.5 L969.5 125.4" stroke="#000" stroke-width="3.6" stroke-dasharray="5 1.5" fill="none" stroke-linejoin="round"/><path d="M913.4 162.1 L919.1 160.4 L914.1 162.6 L910.2 161.2 L915.6 166.3 L909.1 157.5 L909.1 166.6" stroke="#000" stroke-width="3.6" stroke-dasharray="5 1.5" fill="none" stroke-linejoin="round"/><path d="M925.7 171.6 L927.7 166.4 L921.1 168.7 L923.7 173.1 L927.9 171.0 L926.6 171.6 L922.5 169.4" stroke="#000" stroke-width="3.6" stroke-dasharray="5 1.5" fill="none" stroke-linejoin="round"/><path d="M957.2 61.5 L965.7 62.8 L955.7 57.8 L954.9 57.8 L966.7 57.0 L962.6 57.7 L957.9 59.5" stroke="#000" stroke-width="3.6" stroke-dasharray="5 1.5" fill="none" stroke-linejoin="round"/><path d="M984.5 68.0 L992.1 70.4 L986.8 63.6 L993.3 67.6 L987.2 67.8 L988.6 68.8 L984.7 63.2" stroke="#000" stroke-width="3.6" stroke-dasharray="5 1.5" fill="none" stroke-linejoin="round"/><path d="M922.7 78.1 L920.4 79.3 L922.9 78.1 L921.8 83.5 L921.6 86.0 L915.4 80.7 L920.1 80.2" stroke="#000" stroke-width="3.6" stroke-dasharray="5 1.5" fill="none" stroke-linejoin="round"/><path d="M859.6 109.8 L860.2 109.6 L860.1 111.3 L858.6 111.1 L856.1 108.4 L859.4 107.1 L863.4 108.5" stroke="#000" stroke-width="3.6" stroke-dasharray="5 1.5" fill="none" stroke-linejoin="round"/><path d="M930.2 53.8 L933.7 50.7 L932.1 53.2 L931.3 49.7 L926.2 51.3 L932.0 50.5 L930.0 50.9" stroke="#000" stroke-width="3.6" stroke-dasharray="5 1.5" fill="none" stroke-linejoin="round"/><polyline points="258,366 435,241 675,147 818,37 879,39" fill="none" stroke="#000" stroke-width="4" stroke-linejoin="round"/><polyline points="954,208 921,305 728,535 529,635 342,721" fill="none" stroke="#000" stroke-width="4" stroke-linejoin="round"/><path d="M248.0 366.0H268.0M258.0 356.0V376.0M250.4 358.4L265.6 373.6M250.4 373.6L265.6 358.4" stroke="#000" stroke-width="4" fill="none"/><path d="M425.0 241.0H445.0M435.0 231.0V251.0M427.4 233.4L442.6 248.6M427.4 248.6L442.6 233.4" stroke="#000" stroke-width="4" fill="none"/><path d="M665.0 147.0H685.0M675.0 137.0V157.0M667.4 139.4L682.6 154.6M667.4 154.6L682.6 139.4" stroke="#000" stroke-width="4" fill="none"/><path d="M808.0 37.0H828.0M818.0 27.0V47.0M810.4 29.4L825.6 44.6M810.4 44.6L825.6 29.4" stroke="#000" stroke-width="4" fill="none"/><path d="M869.0 39.0H889.0M879.0 29.0V49.0M871.4 31.4L886.6 46.6M871.4 46.6L886.6 31.4" stroke="#000" stroke-width="4" fill="none"/><path d="M944.0 208.0H964.0M954.0 198.0V218.0M946.4 200.4L961.6 215.6M946.4 215.6L961.6 200.4" stroke="#000" stroke-width="4" fill="none"/><path d="M911.0 305.0H931.0M921.0 295.0V315.0M913.4 297.4L928.6 312.6M913.4 312.6L928.6 297.4" stroke="#000" stroke-width="4" fill="none"/><path d="M718.0 535.0H738.0M728.0 525.0V545.0M720.4 527.4L735.6 542.6M720.4 542.6L735.6 527.4" stroke="#000" stroke-width="4" fill="none"/><path d="M519.0 635.0H539.0M529.0 625.0V645.0M521.4 627.4L536.6 642.6M521.4 642.6L536.6 627.4" stroke="#000" stroke-width="4" fill="none"/><path d="M332.0 721.0H352.0M342.0 711.0V731.0M334.4 713.4L349.6 728.6M334.4 728.6L349.6 713.4" stroke="#000" stroke-width="4" fill="none"/><path d="M907.0 83.0H927.0M917.0 73.0V93.0M909.4 75.4L924.6 90.6M909.4 90.6L924.6 75.4" stroke="#000" stroke-width="4" fill="none"/><rect x="100" y="28.5" width="912.5" height="720.1" fill="none" stroke="#2a2a2a" stroke-width="1.5"/><line x1="100.0" y1="748.6" x2="100.0" y2="739.6" stroke="#222" stroke-width="1.3"/><line x1="100.0" y1="28.5" x2="100.0" y2="37.5" stroke="#222" stroke-width="1.3"/><text x="97.0" y="776.5" font-family="'Liberation Sans', sans-serif" font-size="24" text-anchor="middle" fill="#000">-20</text><line x1="252.08333333333334" y1="748.6" x2="252.08333333333334" y2="739.6" stroke="#222" stroke-width="1.3"/><line x1="252.08333333333334" y1="28.5" x2="252.08333333333334" y2="37.5" stroke="#222" stroke-width="1.3"/><text x="252.08333333333334" y="776.5" font-family="'Liberation Sans', sans-serif" font-size="24" text-anchor="middle" fill="#000">0</text><line x1="404.1666666666667" y1="748.6" x2="404.1666666666667" y2="739.6" stroke="#222" stroke-width="1.3"/><line x1="404.1666666666667" y1="28.5" x2="404.1666666666667" y2="37.5" stroke="#222" stroke-width="1.3"/><text x="404.1666666666667" y="776.5" font-family="'Liberation Sans', sans-serif" font-size="24" text-anchor="middle" fill="#000">20</text><line x1="556.25" y1="748.6" x2="556.25" y2="739.6" stroke="#222" stroke-width="1.3"/><line x1="556.25" y1="28.5" x2="556.25" y2="37.5" stroke="#222" stroke-width="1.3"/><text x="556.25" y="776.5" font-family="'Liberation Sans', sans-serif" font-size="24" text-anchor="middle" fill="#000">40</text><line x1="708.3333333333334" y1="748.6" x2="708.3333333333334" y2="739.6" stroke="#222" stroke-width="1.3"/><line x1="708.3333333333334" y1="28.5" x2="708.3333333333334" y2="37.5" stroke="#222" stroke-width="1.3"/><text x="708.3333333333334" y="776.5" font-family="'Liberation Sans', sans-serif" font-size="24" text-anchor="middle" fill="#000">60</text><line x1="860.4166666666666" y1="748.6" x2="860.4166666666666" y2="739.6" stroke="#222" stroke-width="1.3"/><line x1="860.4166666666666" y1="28.5" x2="860.4166666666666" y2="37.5" stroke="#222" stroke-width="1.3"/><text x="860.4166666666666" y="776.5" font-family="'Liberation Sans', sans-serif" font-size="24" text-anchor="middle" fill="#000">80</text><line x1="1012.5" y1="748.6" x2="1012.5" y2="739.6" stroke="#222" stroke-width="1.3"/><line x1="1012.5" y1="28.5" x2="1012.5" y2="37.5" stroke="#222" stroke-width="1.3"/><text x="1012.5" y="776.5" font-family="'Liberation Sans', sans-serif" font-size="24" text-anchor="middle" fill="#000">100</text><line x1="100" y1="28.5" x2="109" y2="28.5" stroke="#222" stroke-width="1.3"/><line x1="1012.5" y1="28.5" x2="1003.5" y2="28.5" stroke="#222" stroke-width="1.3"/><text x="93.5" y="37.0" font-family="'Liberation Sans', sans-serif" font-size="24" text-anchor="end" fill="#000">20</text><line x1="100" y1="100.51" x2="109" y2="100.51" stroke="#222" stroke-width="1.3"/><line x1="1012.5" y1="100.51" x2="1003.5" y2="100.51" stroke="#222" stroke-width="1.3"/><text x="93.5" y="109.01" font-family="'Liberation Sans', sans-serif" font-size="24" text-anchor="end" fill="#000">10</text><line x1="100" y1="172.52" x2="109" y2="172.52" stroke="#222" stroke-width="1.3"/><line x1="1012.5" y1="172.52" x2="1003.5" y2="172.52" stroke="#222" stroke-width="1.3"/><text x="93.5" y="181.02" font-family="'Liberation Sans', sans-serif" font-size="24" text-anchor="end" fill="#000">0</text><line x1="100" y1="244.53" x2="109" y2="244.53" stroke="#222" stroke-width="1.3"/><line x1="1012.5" y1="244.53" x2="1003.5" y2="244.53" stroke="#222" stroke-width="1.3"/><text x="93.5" y="253.03" font-family="'Liberation Sans', sans-serif" font-size="24" text-anchor="end" fill="#000">-10</text><line x1="100" y1="316.54" x2="109" y2="316.54" stroke="#222" stroke-width="1.3"/><line x1="1012.5" y1="316.54" x2="1003.5" y2="316.54" stroke="#222" stroke-width="1.3"/><text x="93.5" y="325.04" font-family="'Liberation Sans', sans-serif" font-size="24" text-anchor="end" fill="#000">-20</text><line x1="100" y1="388.55" x2="109" y2="388.55" stroke="#222" stroke-width="1.3"/><line x1="1012.5" y1="388.55" x2="1003.5" y2="388.55" stroke="#222" stroke-width="1.3"/><text x="93.5" y="397.05" font-family="'Liberation Sans', sans-serif" font-size="24" text-anchor="end" fill="#000">-30</text><line x1="100" y1="460.56" x2="109" y2="460.56" stroke="#222" stroke-width="1.3"/><line x1="1012.5" y1="460.56" x2="1003.5" y2="460.56" stroke="#222" stroke-width="1.3"/><text x="93.5" y="469.06" font-family="'Liberation Sans', sans-serif" font-size="24" text-anchor="end" fill="#000">-40</text><line x1="100" y1="532.5699999999999" x2="109" y2="532.5699999999999" stroke="#222" stroke-width="1.3"/><line x1="1012.5" y1="532.5699999999999" x2="1003.5" y2="532.5699999999999" stroke="#222" stroke-width="1.3"/><text x="93.5" y="541.0699999999999" font-family="'Liberation Sans', sans-serif" font-size="24" text-anchor="end" fill="#000">-50</text><line x1="100" y1="604.58" x2="109" y2="604.58" stroke="#222" stroke-width="1.3"/><line x1="1012.5" y1="604.58" x2="1003.5" y2="604.58" stroke="#222" stroke-width="1.3"/><text x="93.5" y="613.08" font-family="'Liberation Sans', sans-serif" font-size="24" text-anchor="end" fill="#000">-60</text><line x1="100" y1="676.59" x2="109" y2="676.59" stroke="#222" stroke-width="1.3"/><line x1="1012.5" y1="676.59" x2="1003.5" y2="676.59" stroke="#222" stroke-width="1.3"/><text x="93.5" y="685.09" font-family="'Liberation Sans', sans-serif" font-size="24" text-anchor="end" fill="#000">-70</text><line x1="100" y1="748.6" x2="109" y2="748.6" stroke="#222" stroke-width="1.3"/><line x1="1012.5" y1="748.6" x2="1003.5" y2="748.6" stroke="#222" stroke-width="1.3"/><text x="93.5" y="757.1" font-family="'Liberation Sans', sans-serif" font-size="24" text-anchor="end" fill="#000">-80</text><text x="556.3" y="805" font-family="'Liberation Sans', sans-serif" font-size="25" text-anchor="middle" fill="#000">Torso Inclination (deg)</text><text transform="translate(44.5,386.5) rotate(-90)" font-family="'Liberation Sans', sans-serif" font-size="25" text-anchor="middle" fill="#000">Lumbar Curvature (deg)</text><rect x="100" y="29.3" width="229.5" height="269.09999999999997" fill="#fff" stroke="#222" stroke-width="1.3"/><line x1="112.8" y1="52.7" x2="181.8" y2="52.7" stroke="#888" stroke-width="1.2" fill="none"/><text x="189.5" y="61.2" font-family="'Liberation Sans', sans-serif" font-size="24" fill="#000">rom</text><line x1="112.8" y1="90.1" x2="181.8" y2="90.1" stroke="#000" stroke-width="4" fill="none"/><path d="M137.5 90.1H156.5M147.0 80.6V99.6M139.8 82.9L154.2 97.3M139.8 97.3L154.2 82.9" stroke="#000" stroke-width="3.8" fill="none"/><text x="189.5" y="98.6" font-family="'Liberation Sans', sans-serif" font-size="24" fill="#000">rom-max</text><line x1="112.8" y1="127.5" x2="181.8" y2="127.5" stroke="#000" stroke-width="4" fill="none"/><path d="M137.5 127.5H156.5M147.0 118.0V137.0M139.8 120.3L154.2 134.7M139.8 134.7L154.2 120.3" stroke="#000" stroke-width="3.8" fill="none"/><text x="189.5" y="136.0" font-family="'Liberation Sans', sans-serif" font-size="24" fill="#000">rom-min</text><line x1="112.8" y1="164.9" x2="181.8" y2="164.9" stroke="#000" stroke-width="4.2" stroke-dasharray="12.2 4.2 3.9 4.2" fill="none"/><text x="189.5" y="173.4" font-family="'Liberation Sans', sans-serif" font-size="24" fill="#000">light-fast</text><line x1="112.8" y1="202.3" x2="181.8" y2="202.3" stroke="#000" stroke-width="1.6" stroke-dasharray="5 2.1" fill="none"/><text x="189.5" y="210.8" font-family="'Liberation Sans', sans-serif" font-size="24" fill="#000">light-slow</text><line x1="112.8" y1="239.7" x2="181.8" y2="239.7" stroke="#000" stroke-width="4.2" stroke-dasharray="4 4.1" fill="none"/><text x="189.5" y="248.2" font-family="'Liberation Sans', sans-serif" font-size="24" fill="#000">heavy-fast</text><line x1="112.8" y1="277.1" x2="181.8" y2="277.1" stroke="#000" stroke-width="4.1" stroke-dasharray="12 4" fill="none"/><text x="189.5" y="285.6" font-family="'Liberation Sans', sans-serif" font-size="24" fill="#000">heavy-slow</text></svg></body></html>
